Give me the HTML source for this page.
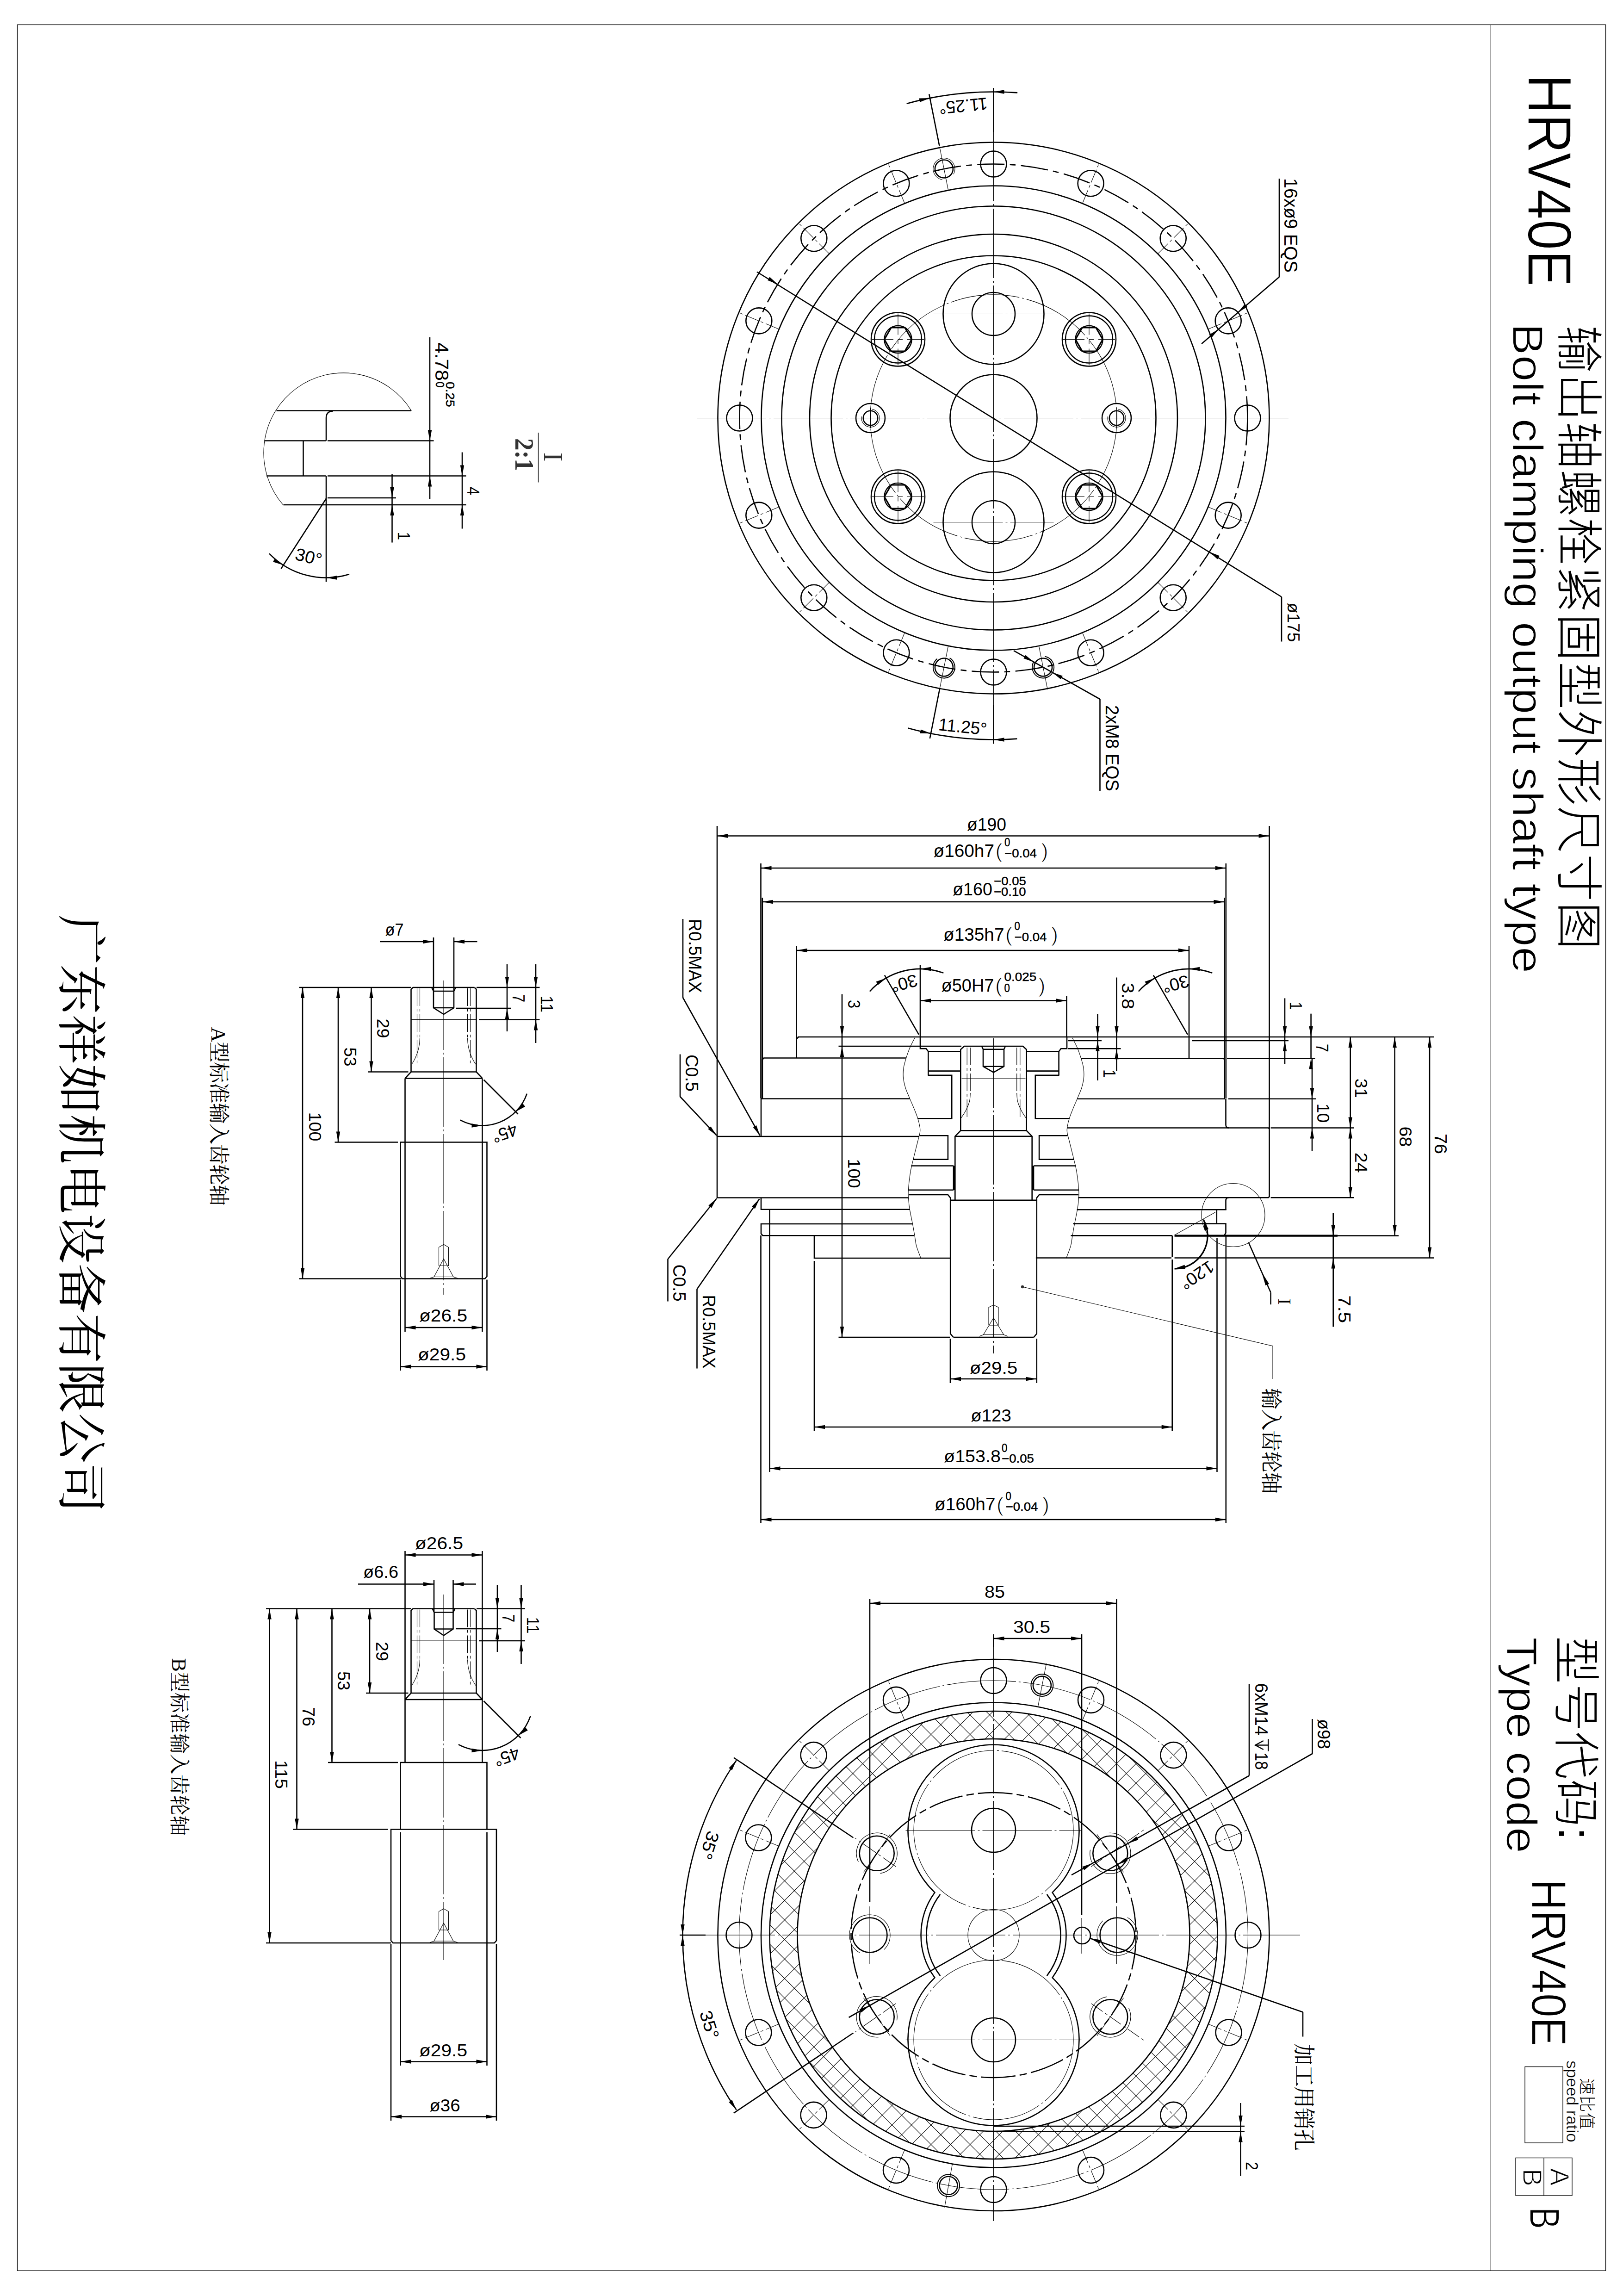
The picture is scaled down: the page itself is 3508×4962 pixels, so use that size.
<!DOCTYPE html>
<html lang="zh"><head><meta charset="utf-8"><title>HRV40E</title><style>
html,body{margin:0;padding:0;background:#fff}
svg{display:block}
.g line,.g path,.g circle,.g polyline{stroke:#000;fill:none;stroke-linecap:butt}
.fr rect,.fr line{stroke:#111;stroke-width:1.4;fill:none}
.ah{fill:#000;stroke:none}
text{fill:#000;stroke:none}
.d{font-family:"Liberation Sans",sans-serif}
.tt{font-family:"Liberation Sans","Noto Sans CJK SC",sans-serif;stroke:#fff;stroke-width:1.6px;paint-order:fill stroke}
.dt{font-family:"Liberation Sans",sans-serif;stroke:#000;stroke-width:.5px}
.pp{font-family:"Liberation Sans",sans-serif;stroke:#fff;stroke-width:1.1px;paint-order:fill stroke}
.ts{font-family:"Liberation Sans",sans-serif;stroke:#fff;stroke-width:.5px;paint-order:fill stroke}
.tc{font-family:"Liberation Sans","Noto Sans CJK SC",sans-serif;font-weight:300}
.sc{font-family:"Liberation Serif","Noto Serif CJK SC",serif}
.sg{font-family:"Liberation Serif","Noto Serif CJK SC",serif;fill:#333}
</style></head><body>
<svg width="3508" height="4962" viewBox="0 0 3508 4962"><rect width="3508" height="4962" fill="#fff"/>
<g class="g">
<circle cx="2147.5" cy="903.5" r="596" stroke-width="2.6"/>
<circle cx="2147.5" cy="903.5" r="502" stroke-width="2.6"/>
<circle cx="2147.5" cy="903.5" r="458" stroke-width="2.6"/>
<circle cx="2147.5" cy="903.5" r="397.5" stroke-width="2.6"/>
<circle cx="2147.5" cy="903.5" r="351" stroke-width="2.6"/>
<circle cx="2147.5" cy="903.5" r="549" stroke-width="2.6" stroke-dasharray="59 11.5 12.5 11.5"/>
<circle cx="2696.5" cy="903.5" r="28" stroke-width="2.6"/>
<circle cx="2654.7" cy="1113.6" r="28" stroke-width="2.6"/>
<line x1="2612.2" y1="1096" x2="2700" y2="1132.3" stroke-width="1.1" stroke-dasharray="30 6 6 6"/>
<circle cx="2535.7" cy="1291.7" r="28" stroke-width="2.6"/>
<line x1="2503.2" y1="1259.2" x2="2570.3" y2="1326.3" stroke-width="1.1" stroke-dasharray="30 6 6 6"/>
<circle cx="2357.6" cy="1410.7" r="28" stroke-width="2.6"/>
<line x1="2340" y1="1368.2" x2="2376.3" y2="1456" stroke-width="1.1" stroke-dasharray="30 6 6 6"/>
<circle cx="2147.5" cy="1452.5" r="28" stroke-width="2.6"/>
<circle cx="1937.4" cy="1410.7" r="28" stroke-width="2.6"/>
<line x1="1955" y1="1368.2" x2="1918.7" y2="1456" stroke-width="1.1" stroke-dasharray="30 6 6 6"/>
<circle cx="1759.3" cy="1291.7" r="28" stroke-width="2.6"/>
<line x1="1791.8" y1="1259.2" x2="1724.7" y2="1326.3" stroke-width="1.1" stroke-dasharray="30 6 6 6"/>
<circle cx="1640.3" cy="1113.6" r="28" stroke-width="2.6"/>
<line x1="1682.8" y1="1096" x2="1595" y2="1132.3" stroke-width="1.1" stroke-dasharray="30 6 6 6"/>
<circle cx="1598.5" cy="903.5" r="28" stroke-width="2.6"/>
<circle cx="1640.3" cy="693.4" r="28" stroke-width="2.6"/>
<line x1="1682.8" y1="711" x2="1595" y2="674.7" stroke-width="1.1" stroke-dasharray="30 6 6 6"/>
<circle cx="1759.3" cy="515.3" r="28" stroke-width="2.6"/>
<line x1="1791.8" y1="547.8" x2="1724.7" y2="480.7" stroke-width="1.1" stroke-dasharray="30 6 6 6"/>
<circle cx="1937.4" cy="396.3" r="28" stroke-width="2.6"/>
<line x1="1955" y1="438.8" x2="1918.7" y2="351" stroke-width="1.1" stroke-dasharray="30 6 6 6"/>
<circle cx="2147.5" cy="354.5" r="28" stroke-width="2.6"/>
<circle cx="2357.6" cy="396.3" r="28" stroke-width="2.6"/>
<line x1="2340" y1="438.8" x2="2376.3" y2="351" stroke-width="1.1" stroke-dasharray="30 6 6 6"/>
<circle cx="2535.7" cy="515.3" r="28" stroke-width="2.6"/>
<line x1="2503.2" y1="547.8" x2="2570.3" y2="480.7" stroke-width="1.1" stroke-dasharray="30 6 6 6"/>
<circle cx="2654.7" cy="693.4" r="28" stroke-width="2.6"/>
<line x1="2612.2" y1="711" x2="2700" y2="674.7" stroke-width="1.1" stroke-dasharray="30 6 6 6"/>
<circle cx="2040.4" cy="365" r="19.5" stroke-width="2.6"/>
<path d="M2036.8 388.3 A23.5 23.5 0 1 1 2061 376.4" stroke-width="1.1"/>
<line x1="2049.4" y1="410.2" x2="2030.8" y2="317" stroke-width="1.1"/>
<circle cx="2040.4" cy="1442" r="19.5" stroke-width="2.6"/>
<path d="M2052.6 1421.9 A23.5 23.5 0 1 1 2025.7 1423.6" stroke-width="2.0"/>
<line x1="2049.4" y1="1396.8" x2="2030.8" y2="1490" stroke-width="1.1"/>
<circle cx="2254.6" cy="1442" r="19.5" stroke-width="2.6"/>
<path d="M2258.2 1418.7 A23.5 23.5 0 1 1 2234 1430.6" stroke-width="2.0"/>
<line x1="2245.6" y1="1396.8" x2="2264.2" y2="1490" stroke-width="1.1"/>
<line x1="1506" y1="903.5" x2="2785" y2="903.5" stroke-width="1.1" stroke-dasharray="150 6 4 6"/>
<line x1="2147.5" y1="285" x2="2147.5" y2="1523" stroke-width="1.1" stroke-dasharray="150 6 4 6"/>
<line x1="2147.5" y1="190" x2="2147.5" y2="285" stroke-width="2.6"/>
<line x1="2147.5" y1="1523.5" x2="2147.5" y2="1607.5" stroke-width="2.6"/>
<circle cx="2147.5" cy="903.5" r="266.6" stroke-width="1.1" stroke-dasharray="150 6 4 6"/>
<circle cx="2147.5" cy="903.5" r="94" stroke-width="2.6"/>
<circle cx="2147.5" cy="678.5" r="109" stroke-width="2.6"/>
<circle cx="2147.5" cy="678.5" r="46.5" stroke-width="2.6"/>
<line x1="2017.5" y1="678.5" x2="2277.5" y2="678.5" stroke-width="1.1" stroke-dasharray="150 6 4 6"/>
<circle cx="1941" cy="733.5" r="58" stroke-width="2.6"/>
<circle cx="1941" cy="733.5" r="51" stroke-width="2.4"/>
<circle cx="1941" cy="733.5" r="29.6" stroke-width="2.4"/>
<path d="M1970.5 733.5 L1955.8 759 L1926.2 759 L1911.5 733.5 L1926.2 708 L1955.8 708 Z" stroke-width="3.2"/>
<line x1="1885" y1="733.5" x2="1997" y2="733.5" stroke-width="1.1" stroke-dasharray="46 10 10 10"/>
<line x1="1941" y1="677.5" x2="1941" y2="789.5" stroke-width="1.1" stroke-dasharray="46 10 10 10"/>
<circle cx="2354" cy="733.5" r="58" stroke-width="2.6"/>
<circle cx="2354" cy="733.5" r="51" stroke-width="2.4"/>
<circle cx="2354" cy="733.5" r="29.6" stroke-width="2.4"/>
<path d="M2383.5 733.5 L2368.8 759 L2339.2 759 L2324.5 733.5 L2339.2 708 L2368.8 708 Z" stroke-width="3.2"/>
<line x1="2298" y1="733.5" x2="2410" y2="733.5" stroke-width="1.1" stroke-dasharray="46 10 10 10"/>
<line x1="2354" y1="677.5" x2="2354" y2="789.5" stroke-width="1.1" stroke-dasharray="46 10 10 10"/>
<circle cx="1881.5" cy="903.5" r="31.5" stroke-width="2.6"/>
<circle cx="1881.5" cy="903.5" r="15.7" stroke-width="2.6"/>
<path d="M1884.9 884.3 A19.5 19.5 0 1 1 1862.3 900.1" stroke-width="1.1"/>
<line x1="1881.5" y1="881.5" x2="1881.5" y2="925.5" stroke-width="1.1"/>
<circle cx="2147.5" cy="1128.5" r="109" stroke-width="2.6"/>
<circle cx="2147.5" cy="1128.5" r="46.5" stroke-width="2.6"/>
<line x1="2017.5" y1="1128.5" x2="2277.5" y2="1128.5" stroke-width="1.1" stroke-dasharray="150 6 4 6"/>
<circle cx="1941" cy="1073.5" r="58" stroke-width="2.6"/>
<circle cx="1941" cy="1073.5" r="51" stroke-width="2.4"/>
<circle cx="1941" cy="1073.5" r="29.6" stroke-width="2.4"/>
<path d="M1970.5 1073.5 L1955.8 1099 L1926.2 1099 L1911.5 1073.5 L1926.2 1048 L1955.8 1048 Z" stroke-width="3.2"/>
<line x1="1885" y1="1073.5" x2="1997" y2="1073.5" stroke-width="1.1" stroke-dasharray="46 10 10 10"/>
<line x1="1941" y1="1017.5" x2="1941" y2="1129.5" stroke-width="1.1" stroke-dasharray="46 10 10 10"/>
<circle cx="2354" cy="1073.5" r="58" stroke-width="2.6"/>
<circle cx="2354" cy="1073.5" r="51" stroke-width="2.4"/>
<circle cx="2354" cy="1073.5" r="29.6" stroke-width="2.4"/>
<path d="M2383.5 1073.5 L2368.8 1099 L2339.2 1099 L2324.5 1073.5 L2339.2 1048 L2368.8 1048 Z" stroke-width="3.2"/>
<line x1="2298" y1="1073.5" x2="2410" y2="1073.5" stroke-width="1.1" stroke-dasharray="46 10 10 10"/>
<line x1="2354" y1="1017.5" x2="2354" y2="1129.5" stroke-width="1.1" stroke-dasharray="46 10 10 10"/>
<circle cx="2413.5" cy="903.5" r="31.5" stroke-width="2.6"/>
<circle cx="2413.5" cy="903.5" r="15.7" stroke-width="2.6"/>
<path d="M2416.9 884.3 A19.5 19.5 0 1 1 2394.3 900.1" stroke-width="1.1"/>
<line x1="2413.5" y1="881.5" x2="2413.5" y2="925.5" stroke-width="1.1"/>
<line x1="1636" y1="587.5" x2="2770" y2="1290" stroke-width="2.6"/>
<polygon class="ah" points="1680.9,614.2 1659.1,605.7 1663.6,598.5"/>
<polygon class="ah" points="2614.1,1192.8 2635.9,1201.3 2631.4,1208.5"/>
<line x1="2770" y1="1290" x2="2770" y2="1386.5" stroke-width="2.6"/>
<text class="d" transform="translate(2782.5 1345) rotate(90)" font-size="37.7" text-anchor="middle" textLength="85" lengthAdjust="spacingAndGlyphs">ø175</text>
<line x1="2765" y1="386" x2="2765" y2="598.5" stroke-width="2.6"/>
<line x1="2765" y1="598.5" x2="2633.5" y2="711.7" stroke-width="2.6"/>
<polygon class="ah" points="2675.9,675.1 2690.6,657 2696.1,663.3"/>
<line x1="2597.1" y1="743" x2="2633.5" y2="711.7" stroke-width="2.6"/>
<polygon class="ah" points="2633.5,711.7 2618.8,729.9 2613.3,723.5"/>
<text class="d" transform="translate(2776 487) rotate(90)" font-size="40.5" text-anchor="middle" textLength="204" lengthAdjust="spacingAndGlyphs">16xø9 EQS</text>
<line x1="2377.5" y1="1511" x2="2377.5" y2="1709" stroke-width="2.6"/>
<line x1="2377.5" y1="1511" x2="2234.6" y2="1430.7" stroke-width="2.6"/>
<polygon class="ah" points="2274.7,1453.2 2296.8,1460.8 2292.7,1468.1"/>
<line x1="2191" y1="1406.2" x2="2234.6" y2="1430.7" stroke-width="2.6"/>
<polygon class="ah" points="2234.6,1430.7 2212.4,1423.1 2216.6,1415.8"/>
<text class="d" transform="translate(2390 1617) rotate(90)" font-size="40.5" text-anchor="middle" textLength="186" lengthAdjust="spacingAndGlyphs">2xM8 EQS</text>
<line x1="2030.4" y1="315" x2="2008.2" y2="203.2" stroke-width="2.6"/>
<path d="M1959.7 224 A705 705 0 0 1 2199.1 200.4" stroke-width="2.6"/>
<polygon class="ah" points="2010,212 1988.2,220.7 1986.6,212.4"/>
<polygon class="ah" points="2147.5,198.5 2170.5,194.3 2170.5,202.7"/>
<text class="d" transform="translate(2081 215.8) rotate(174.4)" font-size="37.7" text-anchor="middle" textLength="105" lengthAdjust="spacingAndGlyphs">11.25°</text>
<line x1="2031.2" y1="1488" x2="2009.8" y2="1595.9" stroke-width="2.6"/>
<path d="M2198.4 1596.6 A695 695 0 0 1 1962.4 1573.4" stroke-width="2.6"/>
<polygon class="ah" points="2011.9,1585.1 1988.5,1584.8 1990.2,1576.5"/>
<polygon class="ah" points="2147.5,1598.5 2170.5,1594.3 2170.5,1602.7"/>
<text class="d" transform="translate(2079.6 1583.4) rotate(5.8)" font-size="37.7" text-anchor="middle" textLength="105" lengthAdjust="spacingAndGlyphs">11.25°</text>
<defs><clipPath id="ring"><path clip-rule="evenodd" d="M2147.5 4182 m-484 0 a484 484 0 1 0 968 0 a484 484 0 1 0 -968 0 Z M2147.5 4182 m-424 0 a424 424 0 1 0 848 0 a424 424 0 1 0 -848 0 Z"/></clipPath></defs>
<g clip-path="url(#ring)">
<line x1="1647.5" y1="4734" x2="2647.5" y2="5734" stroke-width="1.1"/>
<line x1="1647.5" y1="3649" x2="2647.5" y2="2649" stroke-width="1.1"/>
<line x1="1647.5" y1="4691.8" x2="2647.5" y2="5691.8" stroke-width="1.1"/>
<line x1="1647.5" y1="3691.2" x2="2647.5" y2="2691.2" stroke-width="1.1"/>
<line x1="1647.5" y1="4649.6" x2="2647.5" y2="5649.6" stroke-width="1.1"/>
<line x1="1647.5" y1="3733.4" x2="2647.5" y2="2733.4" stroke-width="1.1"/>
<line x1="1647.5" y1="4607.4" x2="2647.5" y2="5607.4" stroke-width="1.1"/>
<line x1="1647.5" y1="3775.6" x2="2647.5" y2="2775.6" stroke-width="1.1"/>
<line x1="1647.5" y1="4565.2" x2="2647.5" y2="5565.2" stroke-width="1.1"/>
<line x1="1647.5" y1="3817.8" x2="2647.5" y2="2817.8" stroke-width="1.1"/>
<line x1="1647.5" y1="4523" x2="2647.5" y2="5523" stroke-width="1.1"/>
<line x1="1647.5" y1="3860" x2="2647.5" y2="2860" stroke-width="1.1"/>
<line x1="1647.5" y1="4480.8" x2="2647.5" y2="5480.8" stroke-width="1.1"/>
<line x1="1647.5" y1="3902.2" x2="2647.5" y2="2902.2" stroke-width="1.1"/>
<line x1="1647.5" y1="4438.6" x2="2647.5" y2="5438.6" stroke-width="1.1"/>
<line x1="1647.5" y1="3944.4" x2="2647.5" y2="2944.4" stroke-width="1.1"/>
<line x1="1647.5" y1="4396.4" x2="2647.5" y2="5396.4" stroke-width="1.1"/>
<line x1="1647.5" y1="3986.6" x2="2647.5" y2="2986.6" stroke-width="1.1"/>
<line x1="1647.5" y1="4354.2" x2="2647.5" y2="5354.2" stroke-width="1.1"/>
<line x1="1647.5" y1="4028.8" x2="2647.5" y2="3028.8" stroke-width="1.1"/>
<line x1="1647.5" y1="4312" x2="2647.5" y2="5312" stroke-width="1.1"/>
<line x1="1647.5" y1="4071" x2="2647.5" y2="3071" stroke-width="1.1"/>
<line x1="1647.5" y1="4269.8" x2="2647.5" y2="5269.8" stroke-width="1.1"/>
<line x1="1647.5" y1="4113.2" x2="2647.5" y2="3113.2" stroke-width="1.1"/>
<line x1="1647.5" y1="4227.6" x2="2647.5" y2="5227.6" stroke-width="1.1"/>
<line x1="1647.5" y1="4155.4" x2="2647.5" y2="3155.4" stroke-width="1.1"/>
<line x1="1647.5" y1="4185.4" x2="2647.5" y2="5185.4" stroke-width="1.1"/>
<line x1="1647.5" y1="4197.6" x2="2647.5" y2="3197.6" stroke-width="1.1"/>
<line x1="1647.5" y1="4143.2" x2="2647.5" y2="5143.2" stroke-width="1.1"/>
<line x1="1647.5" y1="4239.8" x2="2647.5" y2="3239.8" stroke-width="1.1"/>
<line x1="1647.5" y1="4101" x2="2647.5" y2="5101" stroke-width="1.1"/>
<line x1="1647.5" y1="4282" x2="2647.5" y2="3282" stroke-width="1.1"/>
<line x1="1647.5" y1="4058.8" x2="2647.5" y2="5058.8" stroke-width="1.1"/>
<line x1="1647.5" y1="4324.2" x2="2647.5" y2="3324.2" stroke-width="1.1"/>
<line x1="1647.5" y1="4016.6" x2="2647.5" y2="5016.6" stroke-width="1.1"/>
<line x1="1647.5" y1="4366.4" x2="2647.5" y2="3366.4" stroke-width="1.1"/>
<line x1="1647.5" y1="3974.4" x2="2647.5" y2="4974.4" stroke-width="1.1"/>
<line x1="1647.5" y1="4408.6" x2="2647.5" y2="3408.6" stroke-width="1.1"/>
<line x1="1647.5" y1="3932.2" x2="2647.5" y2="4932.2" stroke-width="1.1"/>
<line x1="1647.5" y1="4450.8" x2="2647.5" y2="3450.8" stroke-width="1.1"/>
<line x1="1647.5" y1="3890" x2="2647.5" y2="4890" stroke-width="1.1"/>
<line x1="1647.5" y1="4493" x2="2647.5" y2="3493" stroke-width="1.1"/>
<line x1="1647.5" y1="3847.8" x2="2647.5" y2="4847.8" stroke-width="1.1"/>
<line x1="1647.5" y1="4535.2" x2="2647.5" y2="3535.2" stroke-width="1.1"/>
<line x1="1647.5" y1="3805.6" x2="2647.5" y2="4805.6" stroke-width="1.1"/>
<line x1="1647.5" y1="4577.4" x2="2647.5" y2="3577.4" stroke-width="1.1"/>
<line x1="1647.5" y1="3763.4" x2="2647.5" y2="4763.4" stroke-width="1.1"/>
<line x1="1647.5" y1="4619.6" x2="2647.5" y2="3619.6" stroke-width="1.1"/>
<line x1="1647.5" y1="3721.2" x2="2647.5" y2="4721.2" stroke-width="1.1"/>
<line x1="1647.5" y1="4661.8" x2="2647.5" y2="3661.8" stroke-width="1.1"/>
<line x1="1647.5" y1="3679" x2="2647.5" y2="4679" stroke-width="1.1"/>
<line x1="1647.5" y1="4704" x2="2647.5" y2="3704" stroke-width="1.1"/>
<line x1="1647.5" y1="3636.8" x2="2647.5" y2="4636.8" stroke-width="1.1"/>
<line x1="1647.5" y1="4746.2" x2="2647.5" y2="3746.2" stroke-width="1.1"/>
<line x1="1647.5" y1="3594.6" x2="2647.5" y2="4594.6" stroke-width="1.1"/>
<line x1="1647.5" y1="4788.4" x2="2647.5" y2="3788.4" stroke-width="1.1"/>
<line x1="1647.5" y1="3552.4" x2="2647.5" y2="4552.4" stroke-width="1.1"/>
<line x1="1647.5" y1="4830.6" x2="2647.5" y2="3830.6" stroke-width="1.1"/>
<line x1="1647.5" y1="3510.2" x2="2647.5" y2="4510.2" stroke-width="1.1"/>
<line x1="1647.5" y1="4872.8" x2="2647.5" y2="3872.8" stroke-width="1.1"/>
<line x1="1647.5" y1="3468" x2="2647.5" y2="4468" stroke-width="1.1"/>
<line x1="1647.5" y1="4915" x2="2647.5" y2="3915" stroke-width="1.1"/>
<line x1="1647.5" y1="3425.8" x2="2647.5" y2="4425.8" stroke-width="1.1"/>
<line x1="1647.5" y1="4957.2" x2="2647.5" y2="3957.2" stroke-width="1.1"/>
<line x1="1647.5" y1="3383.6" x2="2647.5" y2="4383.6" stroke-width="1.1"/>
<line x1="1647.5" y1="4999.4" x2="2647.5" y2="3999.4" stroke-width="1.1"/>
<line x1="1647.5" y1="3341.4" x2="2647.5" y2="4341.4" stroke-width="1.1"/>
<line x1="1647.5" y1="5041.6" x2="2647.5" y2="4041.6" stroke-width="1.1"/>
<line x1="1647.5" y1="3299.2" x2="2647.5" y2="4299.2" stroke-width="1.1"/>
<line x1="1647.5" y1="5083.8" x2="2647.5" y2="4083.8" stroke-width="1.1"/>
<line x1="1647.5" y1="3257" x2="2647.5" y2="4257" stroke-width="1.1"/>
<line x1="1647.5" y1="5126" x2="2647.5" y2="4126" stroke-width="1.1"/>
<line x1="1647.5" y1="3214.8" x2="2647.5" y2="4214.8" stroke-width="1.1"/>
<line x1="1647.5" y1="5168.2" x2="2647.5" y2="4168.2" stroke-width="1.1"/>
<line x1="1647.5" y1="3172.6" x2="2647.5" y2="4172.6" stroke-width="1.1"/>
<line x1="1647.5" y1="5210.4" x2="2647.5" y2="4210.4" stroke-width="1.1"/>
<line x1="1647.5" y1="3130.4" x2="2647.5" y2="4130.4" stroke-width="1.1"/>
<line x1="1647.5" y1="5252.6" x2="2647.5" y2="4252.6" stroke-width="1.1"/>
<line x1="1647.5" y1="3088.2" x2="2647.5" y2="4088.2" stroke-width="1.1"/>
<line x1="1647.5" y1="5294.8" x2="2647.5" y2="4294.8" stroke-width="1.1"/>
<line x1="1647.5" y1="3046" x2="2647.5" y2="4046" stroke-width="1.1"/>
<line x1="1647.5" y1="5337" x2="2647.5" y2="4337" stroke-width="1.1"/>
<line x1="1647.5" y1="3003.8" x2="2647.5" y2="4003.8" stroke-width="1.1"/>
<line x1="1647.5" y1="5379.2" x2="2647.5" y2="4379.2" stroke-width="1.1"/>
<line x1="1647.5" y1="2961.6" x2="2647.5" y2="3961.6" stroke-width="1.1"/>
<line x1="1647.5" y1="5421.4" x2="2647.5" y2="4421.4" stroke-width="1.1"/>
<line x1="1647.5" y1="2919.4" x2="2647.5" y2="3919.4" stroke-width="1.1"/>
<line x1="1647.5" y1="5463.6" x2="2647.5" y2="4463.6" stroke-width="1.1"/>
<line x1="1647.5" y1="2877.2" x2="2647.5" y2="3877.2" stroke-width="1.1"/>
<line x1="1647.5" y1="5505.8" x2="2647.5" y2="4505.8" stroke-width="1.1"/>
<line x1="1647.5" y1="2835" x2="2647.5" y2="3835" stroke-width="1.1"/>
<line x1="1647.5" y1="5548" x2="2647.5" y2="4548" stroke-width="1.1"/>
<line x1="1647.5" y1="2792.8" x2="2647.5" y2="3792.8" stroke-width="1.1"/>
<line x1="1647.5" y1="5590.2" x2="2647.5" y2="4590.2" stroke-width="1.1"/>
<line x1="1647.5" y1="2750.6" x2="2647.5" y2="3750.6" stroke-width="1.1"/>
<line x1="1647.5" y1="5632.4" x2="2647.5" y2="4632.4" stroke-width="1.1"/>
<line x1="1647.5" y1="2708.4" x2="2647.5" y2="3708.4" stroke-width="1.1"/>
<line x1="1647.5" y1="5674.6" x2="2647.5" y2="4674.6" stroke-width="1.1"/>
<line x1="1647.5" y1="2666.2" x2="2647.5" y2="3666.2" stroke-width="1.1"/>
<line x1="1647.5" y1="5716.8" x2="2647.5" y2="4716.8" stroke-width="1.1"/>
<line x1="1647.5" y1="2624" x2="2647.5" y2="3624" stroke-width="1.1"/>
<line x1="1647.5" y1="5759" x2="2647.5" y2="4759" stroke-width="1.1"/>
</g>
<circle cx="2147.5" cy="4182" r="596" stroke-width="2.6"/>
<circle cx="2147.5" cy="4182" r="502.5" stroke-width="2.6"/>
<circle cx="2147.5" cy="4182" r="484" stroke-width="2.6"/>
<circle cx="2147.5" cy="4182" r="424" stroke-width="2.6"/>
<circle cx="2147.5" cy="4182" r="550" stroke-width="1.1" stroke-dasharray="150 6 4 6"/>
<circle cx="2697.5" cy="4182" r="28" stroke-width="2.6"/>
<circle cx="2655.6" cy="4392.5" r="28" stroke-width="2.6"/>
<line x1="2612.2" y1="4374.5" x2="2700" y2="4410.8" stroke-width="1.1" stroke-dasharray="30 6 6 6"/>
<circle cx="2536.4" cy="4570.9" r="28" stroke-width="2.6"/>
<line x1="2503.2" y1="4537.7" x2="2570.3" y2="4604.8" stroke-width="1.1" stroke-dasharray="30 6 6 6"/>
<circle cx="2358" cy="4690.1" r="28" stroke-width="2.6"/>
<line x1="2340" y1="4646.7" x2="2376.3" y2="4734.5" stroke-width="1.1" stroke-dasharray="30 6 6 6"/>
<circle cx="2147.5" cy="4732" r="28" stroke-width="2.6"/>
<circle cx="1937" cy="4690.1" r="28" stroke-width="2.6"/>
<line x1="1955" y1="4646.7" x2="1918.7" y2="4734.5" stroke-width="1.1" stroke-dasharray="30 6 6 6"/>
<circle cx="1758.6" cy="4570.9" r="28" stroke-width="2.6"/>
<line x1="1791.8" y1="4537.7" x2="1724.7" y2="4604.8" stroke-width="1.1" stroke-dasharray="30 6 6 6"/>
<circle cx="1639.4" cy="4392.5" r="28" stroke-width="2.6"/>
<line x1="1682.8" y1="4374.5" x2="1595" y2="4410.8" stroke-width="1.1" stroke-dasharray="30 6 6 6"/>
<circle cx="1597.5" cy="4182" r="28" stroke-width="2.6"/>
<circle cx="1639.4" cy="3971.5" r="28" stroke-width="2.6"/>
<line x1="1682.8" y1="3989.5" x2="1595" y2="3953.2" stroke-width="1.1" stroke-dasharray="30 6 6 6"/>
<circle cx="1758.6" cy="3793.1" r="28" stroke-width="2.6"/>
<line x1="1791.8" y1="3826.3" x2="1724.7" y2="3759.2" stroke-width="1.1" stroke-dasharray="30 6 6 6"/>
<circle cx="1937" cy="3673.9" r="28" stroke-width="2.6"/>
<line x1="1955" y1="3717.3" x2="1918.7" y2="3629.5" stroke-width="1.1" stroke-dasharray="30 6 6 6"/>
<circle cx="2147.5" cy="3632" r="28" stroke-width="2.6"/>
<circle cx="2358" cy="3673.9" r="28" stroke-width="2.6"/>
<line x1="2340" y1="3717.3" x2="2376.3" y2="3629.5" stroke-width="1.1" stroke-dasharray="30 6 6 6"/>
<circle cx="2536.4" cy="3793.1" r="28" stroke-width="2.6"/>
<line x1="2503.2" y1="3826.3" x2="2570.3" y2="3759.2" stroke-width="1.1" stroke-dasharray="30 6 6 6"/>
<circle cx="2655.6" cy="3971.5" r="28" stroke-width="2.6"/>
<line x1="2612.2" y1="3989.5" x2="2700" y2="3953.2" stroke-width="1.1" stroke-dasharray="30 6 6 6"/>
<circle cx="2252.4" cy="3642.1" r="19.5" stroke-width="2.6"/>
<circle cx="2252.4" cy="3642.1" r="24" stroke-width="2.0"/>
<line x1="2243.5" y1="3688.2" x2="2261.6" y2="3595" stroke-width="1.1"/>
<circle cx="2050.1" cy="4723.3" r="19.5" stroke-width="2.6"/>
<circle cx="2050.1" cy="4723.3" r="24" stroke-width="2.0"/>
<line x1="2058.4" y1="4677.1" x2="2041.6" y2="4770.5" stroke-width="1.1"/>
<circle cx="2147.5" cy="4182" r="308" stroke-width="2.6" stroke-dasharray="75 9 16 9"/>
<circle cx="1880" cy="4182" r="37.5" stroke-width="2.6"/>
<path d="M1858 4220.1 A44 44 0 1 1 1911.1 4213.1" stroke-width="1.1"/>
<circle cx="2415" cy="4182" r="37.5" stroke-width="2.6"/>
<path d="M2437 4143.9 A44 44 0 1 1 2383.9 4150.9" stroke-width="1.1"/>
<circle cx="1895.2" cy="4005.3" r="37.5" stroke-width="2.6"/>
<path d="M1855.3 4023.9 A44 44 0 1 1 1902.8 4048.6" stroke-width="1.1"/>
<circle cx="1895.2" cy="4358.7" r="37.5" stroke-width="2.6"/>
<path d="M1899 4402.5 A44 44 0 1 1 1938.5 4366.3" stroke-width="1.1"/>
<circle cx="2399.8" cy="4005.3" r="37.5" stroke-width="2.6"/>
<path d="M2396 3961.5 A44 44 0 1 1 2356.5 3997.7" stroke-width="1.1"/>
<circle cx="2399.8" cy="4358.7" r="37.5" stroke-width="2.6"/>
<path d="M2439.7 4340.1 A44 44 0 1 1 2392.2 4315.4" stroke-width="1.1"/>
<path d="M2020.4 4089.9 A185 185 0 1 1 2274.6 4089.9 A157 157 0 0 1 2274.6 4274.1 A185 185 0 1 1 2020.4 4274.1 A157 157 0 0 1 2020.4 4089.9 Z" stroke-width="2.6"/>
<path d="M2032.3 4093.9 A145 145 0 0 0 2032.3 4270.1" stroke-width="2.6"/>
<path d="M2262.7 4093.9 A145 145 0 0 1 2262.7 4270.1" stroke-width="2.6"/>
<circle cx="2147.5" cy="3955.5" r="172.5" stroke-width="1.1" stroke-dasharray="150 6 4 6"/>
<circle cx="2147.5" cy="3955.5" r="47.5" stroke-width="2.6"/>
<line x1="1957.5" y1="3955.5" x2="2337.5" y2="3955.5" stroke-width="1.1" stroke-dasharray="150 6 4 6"/>
<circle cx="2147.5" cy="4408.5" r="172.5" stroke-width="1.1" stroke-dasharray="150 6 4 6"/>
<circle cx="2147.5" cy="4408.5" r="47.5" stroke-width="2.6"/>
<line x1="1957.5" y1="4408.5" x2="2337.5" y2="4408.5" stroke-width="1.1" stroke-dasharray="150 6 4 6"/>
<circle cx="2147.5" cy="4182" r="55.5" stroke-width="1.1"/>
<circle cx="2339" cy="4183" r="18" stroke-width="2.6"/>
<line x1="1525" y1="4182" x2="2810" y2="4182" stroke-width="1.1" stroke-dasharray="150 6 4 6"/>
<line x1="1469" y1="4182" x2="1525" y2="4182" stroke-width="2.6"/>
<line x1="2147.5" y1="3560" x2="2147.5" y2="4800" stroke-width="1.1" stroke-dasharray="150 6 4 6"/>
<line x1="2147.5" y1="3532" x2="2147.5" y2="3560" stroke-width="2.6"/>
<line x1="1880" y1="4120" x2="1880" y2="4245" stroke-width="1.1"/>
<line x1="2413.5" y1="4120" x2="2413.5" y2="4245" stroke-width="1.1"/>
<line x1="2338" y1="4145" x2="2338" y2="4222" stroke-width="1.1"/>
<line x1="1880" y1="3456" x2="1880" y2="4110" stroke-width="2.6"/>
<line x1="2413.5" y1="3456" x2="2413.5" y2="4112" stroke-width="2.6"/>
<line x1="1880" y1="3465" x2="2413.5" y2="3465" stroke-width="2.6"/>
<polygon class="ah" points="1880,3465 1903,3460.8 1903,3469.2"/>
<polygon class="ah" points="2413.5,3465 2390.5,3469.2 2390.5,3460.8"/>
<text class="d" transform="translate(2150 3452.5)" font-size="37.7" text-anchor="middle" textLength="44" lengthAdjust="spacingAndGlyphs">85</text>
<line x1="2338" y1="3532" x2="2338" y2="4139" stroke-width="2.6"/>
<line x1="2147.5" y1="3541" x2="2338" y2="3541" stroke-width="2.6"/>
<polygon class="ah" points="2147.5,3541 2170.5,3536.8 2170.5,3545.2"/>
<polygon class="ah" points="2338,3541 2315,3545.2 2315,3536.8"/>
<text class="d" transform="translate(2230 3529)" font-size="37.7" text-anchor="middle" textLength="80" lengthAdjust="spacingAndGlyphs">30.5</text>
<line x1="1844.4" y1="4393.5" x2="1585.9" y2="4566.6" stroke-width="2.6"/>
<line x1="1936.2" y1="4330" x2="1847.7" y2="4391.9" stroke-width="1.1" stroke-dasharray="34 6 6 6"/>
<polygon class="ah" points="1591.7,4559.7 1575.3,4543.1 1582.2,4538.3"/>
<line x1="1923.9" y1="4399.6" x2="1866.5" y2="4317.7" stroke-width="1.1"/>
<line x1="1844.4" y1="3971.5" x2="1585.9" y2="3798.5" stroke-width="2.6"/>
<line x1="1936.2" y1="4034" x2="1847.7" y2="3972.1" stroke-width="1.1" stroke-dasharray="34 6 6 6"/>
<polygon class="ah" points="1591.7,3804.3 1582.2,3825.7 1575.3,3820.9"/>
<line x1="1866.5" y1="4046.3" x2="1923.9" y2="3964.4" stroke-width="1.1"/>
<path d="M1591.7 4559.7 A672 672 0 0 1 1591.7 3804.3" stroke-width="2.6"/>
<polygon class="ah" points="1475.5,4182 1471.3,4159 1479.7,4159"/>
<polygon class="ah" points="1475.5,4182 1479.7,4205 1471.3,4205"/>
<text class="d" transform="translate(1520.9 3984.4) rotate(107.5)" font-size="37.7" text-anchor="middle" textLength="62" lengthAdjust="spacingAndGlyphs">35°</text>
<text class="d" transform="translate(1520.9 4379.6) rotate(72.5)" font-size="37.7" text-anchor="middle" textLength="62" lengthAdjust="spacingAndGlyphs">35°</text>
<line x1="2358.8" y1="4034" x2="2475.2" y2="3952.6" stroke-width="1.1" stroke-dasharray="30 6 6 6"/>
<line x1="2371.1" y1="3964.4" x2="2428.5" y2="4046.3" stroke-width="1.1"/>
<line x1="2358.8" y1="4330" x2="2475.2" y2="4411.4" stroke-width="1.1" stroke-dasharray="30 6 6 6"/>
<line x1="2428.5" y1="4317.7" x2="2371.1" y2="4399.6" stroke-width="1.1"/>
<line x1="2836.5" y1="3715" x2="2836.5" y2="3790" stroke-width="2.6"/>
<line x1="2836.5" y1="3790" x2="1834.6" y2="4360" stroke-width="2.6"/>
<polygon class="ah" points="2415.2,4029.7 2433.1,4014.7 2437.3,4022"/>
<polygon class="ah" points="1879.8,4334.3 1861.9,4349.3 1857.7,4342"/>
<text class="d" transform="translate(2848.1 3747.5) rotate(90)" font-size="38.8" text-anchor="middle" textLength="65" lengthAdjust="spacingAndGlyphs">ø98</text>
<line x1="2700" y1="3639" x2="2700" y2="3837.5" stroke-width="2.6"/>
<line x1="2700" y1="3837.5" x2="2361.4" y2="4026.8" stroke-width="2.6"/>
<polygon class="ah" points="2438.2,3983.8 2456.2,3968.9 2460.3,3976.3"/>
<line x1="2316" y1="4052.1" x2="2361.4" y2="4026.8" stroke-width="2.6"/>
<polygon class="ah" points="2361.4,4026.8 2343.4,4041.7 2339.3,4034.3"/>
<text class="d" transform="translate(2713.2 3694.2) rotate(90)" font-size="39.1" text-anchor="middle" textLength="113.2" lengthAdjust="spacingAndGlyphs">6xM14</text>
<text class="d" transform="translate(2713.2 3806) rotate(90)" font-size="39.1" text-anchor="middle" textLength="37.3" lengthAdjust="spacingAndGlyphs">18</text>
<line x1="2741.3" y1="3758.3" x2="2741.3" y2="3784.7" stroke-width="2.4"/>
<line x1="2741.3" y1="3771.5" x2="2713.2" y2="3771.5" stroke-width="2.4"/>
<path d="M2730.8 3762 L2713.2 3771.5 L2730.8 3781" stroke-width="2.4"/>
<line x1="2816" y1="4348.5" x2="2356" y2="4188.9" stroke-width="2.6"/>
<polygon class="ah" points="2356,4188.9 2379.1,4192.5 2376.4,4200.4"/>
<line x1="2816" y1="4348.5" x2="2816" y2="4401.5" stroke-width="2.6"/>
<text class="sc" transform="translate(2802 4532.5) rotate(90)" font-size="47" text-anchor="middle" textLength="232" lengthAdjust="spacing">加工用销孔</text>
<line x1="2147.5" y1="4595" x2="2690" y2="4595" stroke-width="2.6"/>
<line x1="2147.5" y1="4606.5" x2="2690" y2="4606.5" stroke-width="2.6"/>
<line x1="2681.5" y1="4545" x2="2681.5" y2="4702.5" stroke-width="2.6"/>
<polygon class="ah" points="2681.5,4595 2677.3,4572 2685.7,4572"/>
<polygon class="ah" points="2681.5,4606.5 2685.7,4629.5 2677.3,4629.5"/>
<text class="d" transform="translate(2692.5 4681) rotate(90)" font-size="37.7" text-anchor="middle" textLength="18.1" lengthAdjust="spacingAndGlyphs">2</text>
<line x1="1550" y1="1785" x2="1550" y2="2456" stroke-width="2.6"/>
<line x1="2743.6" y1="1785" x2="2743.6" y2="2587" stroke-width="2.6"/>
<line x1="1550" y1="1806.5" x2="2743.6" y2="1806.5" stroke-width="2.6"/>
<polygon class="ah" points="1550,1806.5 1573,1802.3 1573,1810.7"/>
<polygon class="ah" points="2743.6,1806.5 2720.6,1810.7 2720.6,1802.3"/>
<text class="d" transform="translate(2132.5 1795)" font-size="38.4" text-anchor="middle" textLength="85" lengthAdjust="spacingAndGlyphs">ø190</text>
<line x1="1644.5" y1="1866" x2="1644.5" y2="2374" stroke-width="2.6"/>
<line x1="2649.8" y1="1866" x2="2649.8" y2="2374" stroke-width="2.6"/>
<line x1="1644.5" y1="1876" x2="2649.8" y2="1876" stroke-width="2.6"/>
<polygon class="ah" points="1644.5,1876 1667.5,1871.8 1667.5,1880.2"/>
<polygon class="ah" points="2649.8,1876 2626.8,1880.2 2626.8,1871.8"/>
<text class="d" transform="translate(2017.5 1851.5)" font-size="38.4" text-anchor="start" textLength="131.5" lengthAdjust="spacingAndGlyphs">ø160h7</text>
<text class="pp" transform="translate(2151.5 1854)" font-size="45" text-anchor="start">(</text>
<text class="dt" transform="translate(2171 1829)" font-size="25.8" text-anchor="start" textLength="12.4" lengthAdjust="spacingAndGlyphs">0</text>
<text class="dt" transform="translate(2171 1852.5)" font-size="25.8" text-anchor="start" textLength="69.9" lengthAdjust="spacingAndGlyphs">−0.04</text>
<text class="pp" transform="translate(2250.5 1854)" font-size="45" text-anchor="start">)</text>
<line x1="1647.8" y1="1940" x2="1647.8" y2="2374" stroke-width="2.6"/>
<line x1="2646.5" y1="1940" x2="2646.5" y2="2374" stroke-width="2.6"/>
<line x1="1647.8" y1="1949" x2="2646.5" y2="1949" stroke-width="2.6"/>
<polygon class="ah" points="1647.8,1949 1670.8,1944.8 1670.8,1953.2"/>
<polygon class="ah" points="2646.5,1949 2623.5,1953.2 2623.5,1944.8"/>
<text class="d" transform="translate(2059 1935)" font-size="38.4" text-anchor="start" textLength="86" lengthAdjust="spacingAndGlyphs">ø160</text>
<text class="dt" transform="translate(2148 1912.5)" font-size="25.8" text-anchor="start" textLength="69.9" lengthAdjust="spacingAndGlyphs">−0.05</text>
<text class="dt" transform="translate(2148 1936)" font-size="25.8" text-anchor="start" textLength="69.4" lengthAdjust="spacingAndGlyphs">−0.10</text>
<line x1="1721.5" y1="2045" x2="1721.5" y2="2286.5" stroke-width="2.6"/>
<line x1="2570" y1="2045" x2="2570" y2="2287.5" stroke-width="2.6"/>
<line x1="1721.5" y1="2054" x2="2570" y2="2054" stroke-width="2.6"/>
<polygon class="ah" points="1721.5,2054 1744.5,2049.8 1744.5,2058.2"/>
<polygon class="ah" points="2570,2054 2547,2058.2 2547,2049.8"/>
<text class="d" transform="translate(2039 2032.5)" font-size="38.4" text-anchor="start" textLength="131.5" lengthAdjust="spacingAndGlyphs">ø135h7</text>
<text class="pp" transform="translate(2173 2035)" font-size="45" text-anchor="start">(</text>
<text class="dt" transform="translate(2192.5 2010)" font-size="25.8" text-anchor="start" textLength="12.4" lengthAdjust="spacingAndGlyphs">0</text>
<text class="dt" transform="translate(2192.5 2033.5)" font-size="25.8" text-anchor="start" textLength="69.9" lengthAdjust="spacingAndGlyphs">−0.04</text>
<text class="pp" transform="translate(2272 2035)" font-size="45" text-anchor="start">)</text>
<line x1="1989" y1="2085" x2="1989" y2="2241" stroke-width="2.6"/>
<line x1="2305.5" y1="2153" x2="2305.5" y2="2241" stroke-width="2.6"/>
<line x1="1989" y1="2162.5" x2="2305.5" y2="2162.5" stroke-width="2.6"/>
<polygon class="ah" points="1989,2162.5 2012,2158.3 2012,2166.7"/>
<polygon class="ah" points="2305.5,2162.5 2282.5,2166.7 2282.5,2158.3"/>
<text class="d" transform="translate(2034.5 2142.5)" font-size="38.4" text-anchor="start" textLength="114" lengthAdjust="spacingAndGlyphs">ø50H7</text>
<text class="pp" transform="translate(2151 2145)" font-size="45" text-anchor="start">(</text>
<text class="dt" transform="translate(2170.5 2120)" font-size="25.8" text-anchor="start" textLength="69.9" lengthAdjust="spacingAndGlyphs">0.025</text>
<text class="dt" transform="translate(2170.5 2143.5)" font-size="25.8" text-anchor="start" textLength="12.4" lengthAdjust="spacingAndGlyphs">0</text>
<text class="pp" transform="translate(2244.5 2145)" font-size="45" text-anchor="start">)</text>
<line x1="1986" y1="2235.8" x2="1912" y2="2107.6" stroke-width="2.6"/>
<path d="M1879.8 2142.6 A147 147 0 0 1 2039.3 2102.9" stroke-width="2.6"/>
<polygon class="ah" points="1915.5,2113.7 1897.7,2128.8 1893.5,2121.6"/>
<polygon class="ah" points="1989,2094 2012,2089.8 2012,2098.2"/>
<line x1="2567" y1="2235.8" x2="2493" y2="2107.6" stroke-width="2.6"/>
<path d="M2460.8 2142.6 A147 147 0 0 1 2620.3 2102.9" stroke-width="2.6"/>
<polygon class="ah" points="2496.5,2113.7 2478.7,2128.8 2474.5,2121.6"/>
<polygon class="ah" points="2570,2094 2593,2089.8 2593,2098.2"/>
<text class="d" transform="translate(1951 2112.5) rotate(165)" font-size="37.7" text-anchor="middle" textLength="58" lengthAdjust="spacingAndGlyphs">30°</text>
<text class="d" transform="translate(2538 2114) rotate(165)" font-size="37.7" text-anchor="middle" textLength="58" lengthAdjust="spacingAndGlyphs">30°</text>
<path d="M1726 2241 L1721.5 2245.5 L1721.5 2286.5" stroke-width="2.6"/>
<line x1="1724" y1="2241" x2="3099" y2="2241" stroke-width="2.6"/>
<path d="M1647.8 2374 L1647.8 2290 L1651 2286.5 L1958.5 2286.5" stroke-width="2.6"/>
<line x1="1645" y1="2374.5" x2="1966" y2="2374.5" stroke-width="2.6"/>
<line x1="1645" y1="2374.5" x2="1645" y2="2456" stroke-width="2.6"/>
<path d="M1987 2456 L1550 2456 L1550 2588.5 L1964 2588.5" stroke-width="2.6"/>
<path d="M1645 2588.5 L1645 2613.8 L1966 2613.8" stroke-width="2.6"/>
<path d="M1972 2645 L1645 2645 L1645 2666 L1648.5 2670.2 L1976 2670.2" stroke-width="2.6"/>
<path d="M1760 2670.2 L1760 2719 L2053 2719" stroke-width="2.6"/>
<line x1="1644.5" y1="2670" x2="1644.5" y2="3292" stroke-width="2.6"/>
<line x1="1663.5" y1="2614" x2="1663.5" y2="3181" stroke-width="2.6"/>
<line x1="1760" y1="2725" x2="1760" y2="3092" stroke-width="2.6"/>
<line x1="1812.5" y1="2261" x2="2078" y2="2261" stroke-width="2.6"/>
<line x1="1812.5" y1="2890" x2="2053" y2="2890" stroke-width="2.6"/>
<line x1="1820" y1="2148.5" x2="1820" y2="2890" stroke-width="2.6"/>
<polygon class="ah" points="1820,2241 1815.8,2218 1824.2,2218"/>
<polygon class="ah" points="1820,2261 1824.2,2284 1815.8,2284"/>
<polygon class="ah" points="1820,2890 1815.8,2867 1824.2,2867"/>
<text class="d" transform="translate(1832.5 2170) rotate(90)" font-size="37.7" text-anchor="middle" textLength="18.1" lengthAdjust="spacingAndGlyphs">3</text>
<text class="d" transform="translate(1832.5 2536) rotate(90)" font-size="37.7" text-anchor="middle" textLength="63.5" lengthAdjust="spacingAndGlyphs">100</text>
<line x1="2336" y1="2287.5" x2="2643" y2="2287.5" stroke-width="2.6"/>
<path d="M2643 2287.5 Q2646.5 2287.5 2646.5 2291 L2646.5 2374" stroke-width="2.6"/>
<line x1="2652" y1="2287.5" x2="2842.5" y2="2287.5" stroke-width="2.6"/>
<line x1="2328" y1="2374.7" x2="2648" y2="2374.7" stroke-width="2.6"/>
<line x1="2655" y1="2374.7" x2="2844.7" y2="2374.7" stroke-width="2.6"/>
<path d="M2649.5 2374.7 L2649.5 2431 Q2649.5 2437.5 2656 2437.5" stroke-width="2.6"/>
<path d="M2306.7 2437.5 L2741.5 2437.5 L2743.6 2440" stroke-width="2.6"/>
<line x1="2746.6" y1="2437.5" x2="2927" y2="2437.5" stroke-width="2.6"/>
<path d="M2330.4 2588.3 L2741.5 2588.3 L2743.6 2586" stroke-width="2.6"/>
<line x1="2746.6" y1="2588.3" x2="2926" y2="2588.3" stroke-width="2.6"/>
<path d="M2656 2588.3 Q2649.5 2588.3 2649.5 2595 L2649.5 2614.3" stroke-width="2.6"/>
<line x1="2327.6" y1="2614.3" x2="2650.8" y2="2614.3" stroke-width="2.6"/>
<line x1="2629.8" y1="2614.3" x2="2629.8" y2="2644.6" stroke-width="2.6"/>
<path d="M2319.6 2644.6 L2649.5 2644.6 L2649.5 2664.5 L2646.5 2669.5" stroke-width="2.6"/>
<line x1="2314.4" y1="2670.4" x2="2533.7" y2="2670.4" stroke-width="2.6"/>
<line x1="2538.6" y1="2670.6" x2="2891" y2="2670.6" stroke-width="4.2"/>
<line x1="2891" y1="2670.6" x2="3023" y2="2670.6" stroke-width="2.6"/>
<line x1="2533.7" y1="2670.4" x2="2533.7" y2="2716" stroke-width="2.6"/>
<line x1="2533.7" y1="2722" x2="2533.7" y2="3092" stroke-width="2.6"/>
<line x1="2238.9" y1="2718.5" x2="2532" y2="2718.5" stroke-width="2.6"/>
<line x1="2538.6" y1="2718.5" x2="3099" y2="2718.5" stroke-width="2.6"/>
<line x1="2630.5" y1="2676" x2="2630.5" y2="3181" stroke-width="2.6"/>
<line x1="2649.8" y1="2670" x2="2649.8" y2="3292" stroke-width="2.6"/>
<line x1="2538.6" y1="2669.2" x2="2626.6" y2="2620" stroke-width="1.1"/>
<path d="M2601 2635.5 A71.5 71.5 0 0 1 2538.6 2741.9" stroke-width="3.2"/>
<polygon class="ah" points="2601,2635.5 2612.1,2656.2 2603.5,2658.8"/>
<polygon class="ah" points="2538.6,2741.9 2560.5,2733.5 2562,2742.3"/>
<text class="d" transform="translate(2580 2745) rotate(146)" font-size="37.7" text-anchor="middle" textLength="80" lengthAdjust="spacingAndGlyphs">120°</text>
<circle cx="2665.5" cy="2626" r="68.5" stroke-width="1.1"/>
<line x1="2698.5" y1="2684.8" x2="2727" y2="2749" stroke-width="2.6"/>
<polygon class="ah" points="2727,2749 2743,2774.7 2735.3,2778.1"/>
<line x1="2727" y1="2749" x2="2746.6" y2="2793.3" stroke-width="2.6"/>
<line x1="2746.6" y1="2793.3" x2="2746.6" y2="2819.2" stroke-width="2.6"/>
<text class="sc" transform="translate(2763 2813) rotate(90)" font-size="40" text-anchor="middle">I</text>
<path d="M1989 2241 L1989 2266.2 L2001.8 2266.2 L2006.4 2272.4 L2076.3 2272.4" stroke-width="2.6"/>
<line x1="2006.4" y1="2272.4" x2="2006.4" y2="2323.8" stroke-width="2.6"/>
<line x1="2006.4" y1="2314.6" x2="2076.3" y2="2314.6" stroke-width="2.6"/>
<path d="M2005.5 2323.8 L2057.2 2323.8 L2057.2 2417.2 L1983.3 2417.2" stroke-width="2.6"/>
<path d="M1987.3 2454.2 L2048.9 2454.2 L2048.9 2505.6 L1973.1 2505.6" stroke-width="2.6"/>
<path d="M1969.5 2519.5 L2060.9 2519.5" stroke-width="2.6"/>
<line x1="2061.5" y1="2519.5" x2="2061.5" y2="2571.8" stroke-width="3.6"/>
<line x1="1963.3" y1="2571.8" x2="2060.9" y2="2571.8" stroke-width="2.6"/>
<path d="M1964.2 2582 L2048.9 2582 L2054.2 2588.8 L2054.2 2882.4 L2060.5 2890" stroke-width="2.6"/>
<path d="M2147.5 2261 L2084 2261 L2076.3 2268.4 L2076.3 2443.4 L2064.3 2455.7 L2064.3 2593.7" stroke-width="2.6"/>
<path d="M2121.9 2261 L2125 2267.7 L2125 2304.7 L2147.5 2317.7" stroke-width="2.6"/>
<line x1="2090.2" y1="2264" x2="2090.2" y2="2415" stroke-width="1.1" stroke-dasharray="38 6 6 6"/>
<line x1="2097.3" y1="2264" x2="2097.3" y2="2362" stroke-width="1.1" stroke-dasharray="38 6 6 6"/>
<path d="M2097.3 2362 C2097 2365 2097.1 2373.7 2095.5 2380 C2093.9 2386.3 2090.5 2394 2087.5 2400 C2084.5 2406 2079.2 2413.3 2077.5 2416" stroke-width="1.1"/>
<path d="M1977.1 2243.1 C1975.3 2246.7 1969.4 2257.5 1966.4 2264.7 C1963.3 2271.9 1960.9 2279.1 1958.7 2286.3 C1956.4 2293.4 1954.1 2300.6 1953.1 2307.8 C1952.1 2315 1951.8 2322.2 1952.5 2329.4 C1953.2 2336.6 1954.8 2343.5 1957.1 2351 C1959.4 2358.4 1963.3 2366.6 1966.4 2374.1 C1969.4 2381.5 1972.8 2388.7 1975.6 2395.6 C1978.4 2402.6 1981.2 2409.2 1983.3 2415.7 C1985.4 2422.1 1987 2429 1987.9 2434.1 C1988.8 2439.3 1989.3 2440.8 1988.5 2446.5 C1987.8 2452.1 1985.7 2458.3 1983.3 2468 C1980.9 2477.8 1976.6 2494.2 1974.1 2505 C1971.5 2515.8 1969.7 2521.4 1967.9 2532.7 C1966.1 2544 1963.9 2562.5 1963.3 2572.8 C1962.6 2583 1963.4 2587.4 1963.9 2594.3 C1964.4 2601.3 1964.9 2605.9 1966.4 2614.4 C1967.8 2622.8 1970.7 2635.7 1972.5 2645.2 C1974.3 2654.7 1975.8 2663.4 1977.1 2671.3 C1978.5 2679.3 1978.6 2685 1980.8 2692.9 C1983 2700.9 1988.8 2714.7 1990.4 2719.1" stroke-width="1.1"/>
<path d="M2306 2241 L2306 2266.2 L2293.2 2266.2 L2288.6 2272.4 L2218.7 2272.4" stroke-width="2.6"/>
<line x1="2288.6" y1="2272.4" x2="2288.6" y2="2323.8" stroke-width="2.6"/>
<line x1="2288.6" y1="2314.6" x2="2218.7" y2="2314.6" stroke-width="2.6"/>
<path d="M2289.5 2323.8 L2237.8 2323.8 L2237.8 2417.2 L2311.7 2417.2" stroke-width="2.6"/>
<path d="M2307.7 2454.2 L2246.1 2454.2 L2246.1 2505.6 L2321.9 2505.6" stroke-width="2.6"/>
<path d="M2325.5 2519.5 L2234.1 2519.5" stroke-width="2.6"/>
<line x1="2233.5" y1="2519.5" x2="2233.5" y2="2571.8" stroke-width="3.6"/>
<line x1="2331.7" y1="2571.8" x2="2234.1" y2="2571.8" stroke-width="2.6"/>
<path d="M2330.8 2582 L2246.1 2582 L2240.8 2588.8 L2240.8 2882.4 L2234.5 2890" stroke-width="2.6"/>
<path d="M2147.5 2261 L2211 2261 L2218.7 2268.4 L2218.7 2443.4 L2230.7 2455.7 L2230.7 2593.7" stroke-width="2.6"/>
<path d="M2173.1 2261 L2170 2267.7 L2170 2304.7 L2147.5 2317.7" stroke-width="2.6"/>
<line x1="2204.8" y1="2264" x2="2204.8" y2="2415" stroke-width="1.1" stroke-dasharray="38 6 6 6"/>
<line x1="2197.7" y1="2264" x2="2197.7" y2="2362" stroke-width="1.1" stroke-dasharray="38 6 6 6"/>
<path d="M2197.7 2362 C2198 2365 2197.9 2373.7 2199.5 2380 C2201.1 2386.3 2204.5 2394 2207.5 2400 C2210.5 2406 2215.8 2413.3 2217.5 2416" stroke-width="1.1"/>
<path d="M2317.9 2243.1 C2319.7 2246.7 2325.6 2257.5 2328.6 2264.7 C2331.7 2271.9 2334.1 2279.1 2336.3 2286.3 C2338.6 2293.4 2340.9 2300.6 2341.9 2307.8 C2342.9 2315 2343.2 2322.2 2342.5 2329.4 C2341.8 2336.6 2340.2 2343.5 2337.9 2351 C2335.6 2358.4 2331.7 2366.6 2328.6 2374.1 C2325.6 2381.5 2322.2 2388.7 2319.4 2395.6 C2316.6 2402.6 2313.8 2409.2 2311.7 2415.7 C2309.6 2422.1 2308 2429 2307.1 2434.1 C2306.2 2439.3 2305.7 2440.8 2306.5 2446.5 C2307.2 2452.1 2309.3 2458.3 2311.7 2468 C2314.1 2477.8 2318.4 2494.2 2320.9 2505 C2323.5 2515.8 2325.3 2521.4 2327.1 2532.7 C2328.9 2544 2331.1 2562.5 2331.7 2572.8 C2332.4 2583 2331.6 2587.4 2331.1 2594.3 C2330.6 2601.3 2330.1 2605.9 2328.6 2614.4 C2327.2 2622.8 2324.3 2635.7 2322.5 2645.2 C2320.7 2654.7 2319.2 2663.4 2317.9 2671.3 C2316.5 2679.3 2316.4 2685 2314.2 2692.9 C2312 2700.9 2306.2 2714.7 2304.6 2719.1" stroke-width="1.1"/>
<line x1="2076.3" y1="2443.4" x2="2218.7" y2="2443.4" stroke-width="2.6"/>
<line x1="2064.3" y1="2455.7" x2="2230.7" y2="2455.7" stroke-width="2.6"/>
<line x1="2054.2" y1="2593.7" x2="2240.8" y2="2593.7" stroke-width="2.6"/>
<line x1="2060.5" y1="2890" x2="2234.5" y2="2890" stroke-width="2.6"/>
<line x1="2125" y1="2267.7" x2="2170" y2="2267.7" stroke-width="2.6"/>
<line x1="2125" y1="2304.7" x2="2170" y2="2304.7" stroke-width="2.6"/>
<line x1="2078.5" y1="2331" x2="2216.5" y2="2331" stroke-width="1.1" stroke="#555"/>
<line x1="2147.5" y1="2244" x2="2147.5" y2="2925" stroke-width="1.1" stroke-dasharray="150 6 4 6"/>
<path d="M2137 2863.9 L2137 2825.4 L2147.5 2820 L2158 2825.4 L2158 2863.9 L2137 2863.9" stroke-width="1.1"/>
<path d="M2116.5 2888 L2125.5 2884.5 L2147.5 2848 L2169.5 2884.5 L2178.5 2888" stroke-width="1.1"/>
<line x1="2125.5" y1="2884.5" x2="2169.5" y2="2884.5" stroke-width="1.1"/>
<line x1="2413.5" y1="2112.5" x2="2413.5" y2="2314" stroke-width="2.6"/>
<polygon class="ah" points="2413.5,2241 2409.3,2218 2417.7,2218"/>
<polygon class="ah" points="2413.5,2266.2 2417.7,2289.2 2409.3,2289.2"/>
<line x1="2309" y1="2266.2" x2="2422.5" y2="2266.2" stroke-width="2.6"/>
<text class="d" transform="translate(2425 2152.5) rotate(90)" font-size="37.7" text-anchor="middle" textLength="57" lengthAdjust="spacingAndGlyphs">3.8</text>
<line x1="2372.5" y1="2191" x2="2372.5" y2="2335" stroke-width="2.6"/>
<polygon class="ah" points="2372.5,2241 2368.3,2218 2376.7,2218"/>
<polygon class="ah" points="2372.5,2249 2376.7,2272 2368.3,2272"/>
<line x1="2309" y1="2249" x2="2381" y2="2249" stroke-width="2.6"/>
<text class="d" transform="translate(2385 2320) rotate(90)" font-size="37.7" text-anchor="middle" textLength="17.3" lengthAdjust="spacingAndGlyphs">1</text>
<line x1="2576.3" y1="2249" x2="2785" y2="2249" stroke-width="2.6"/>
<line x1="2777" y1="2157.4" x2="2777" y2="2300" stroke-width="2.6"/>
<polygon class="ah" points="2777,2241 2772.8,2218 2781.2,2218"/>
<polygon class="ah" points="2777,2249 2781.2,2272 2772.8,2272"/>
<text class="d" transform="translate(2788 2174) rotate(90)" font-size="37.7" text-anchor="middle" textLength="17.3" lengthAdjust="spacingAndGlyphs">1</text>
<line x1="2833.6" y1="2190.7" x2="2833.6" y2="2287.5" stroke-width="2.6"/>
<polygon class="ah" points="2833.6,2241 2829.4,2218 2837.8,2218"/>
<polygon class="ah" points="2833.6,2287.5 2837.8,2310.5 2829.4,2310.5"/>
<line x1="2836" y1="2287.5" x2="2836" y2="2487.7" stroke-width="2.6"/>
<polygon class="ah" points="2836,2374.7 2831.8,2351.7 2840.2,2351.7"/>
<polygon class="ah" points="2836,2437.5 2840.2,2460.5 2831.8,2460.5"/>
<text class="d" transform="translate(2845.4 2264.7) rotate(90)" font-size="37.7" text-anchor="middle" textLength="18.1" lengthAdjust="spacingAndGlyphs">7</text>
<text class="d" transform="translate(2847.3 2405.4) rotate(90)" font-size="37.7" text-anchor="middle" textLength="42" lengthAdjust="spacingAndGlyphs">10</text>
<line x1="2918.7" y1="2241" x2="2918.7" y2="2588.3" stroke-width="2.6"/>
<polygon class="ah" points="2918.7,2241 2922.9,2264 2914.5,2264"/>
<polygon class="ah" points="2918.7,2437.5 2914.5,2414.5 2922.9,2414.5"/>
<polygon class="ah" points="2918.7,2437.5 2922.9,2460.5 2914.5,2460.5"/>
<polygon class="ah" points="2918.7,2588.3 2914.5,2565.3 2922.9,2565.3"/>
<text class="d" transform="translate(2929.4 2351.7) rotate(90)" font-size="37.7" text-anchor="middle" textLength="42" lengthAdjust="spacingAndGlyphs">31</text>
<text class="d" transform="translate(2929.4 2512.7) rotate(90)" font-size="37.7" text-anchor="middle" textLength="44" lengthAdjust="spacingAndGlyphs">24</text>
<line x1="3014.6" y1="2241" x2="3014.6" y2="2670.6" stroke-width="2.6"/>
<polygon class="ah" points="3014.6,2241 3018.8,2264 3010.4,2264"/>
<polygon class="ah" points="3014.6,2670.6 3010.4,2647.6 3018.8,2647.6"/>
<text class="d" transform="translate(3025 2456.5) rotate(90)" font-size="37.7" text-anchor="middle" textLength="44" lengthAdjust="spacingAndGlyphs">68</text>
<line x1="3090" y1="2241" x2="3090" y2="2718.5" stroke-width="2.6"/>
<polygon class="ah" points="3090,2241 3094.2,2264 3085.8,2264"/>
<polygon class="ah" points="3090,2718.5 3085.8,2695.5 3094.2,2695.5"/>
<text class="d" transform="translate(3100.8 2472) rotate(90)" font-size="37.7" text-anchor="middle" textLength="44" lengthAdjust="spacingAndGlyphs">76</text>
<line x1="2881.7" y1="2622" x2="2881.7" y2="2867.3" stroke-width="2.6"/>
<polygon class="ah" points="2881.7,2670.6 2877.5,2647.6 2885.9,2647.6"/>
<polygon class="ah" points="2881.7,2718.5 2885.9,2741.5 2877.5,2741.5"/>
<text class="d" transform="translate(2892.8 2829.2) rotate(90)" font-size="37.7" text-anchor="middle" textLength="60" lengthAdjust="spacingAndGlyphs">7.5</text>
<line x1="2054" y1="2893" x2="2054" y2="2989" stroke-width="2.6"/>
<line x1="2240.8" y1="2893" x2="2240.8" y2="2989" stroke-width="2.6"/>
<line x1="2054" y1="2980" x2="2240.8" y2="2980" stroke-width="2.6"/>
<polygon class="ah" points="2054,2980 2077,2975.8 2077,2984.2"/>
<polygon class="ah" points="2240.8,2980 2217.8,2984.2 2217.8,2975.8"/>
<text class="d" transform="translate(2147.5 2969)" font-size="37.7" text-anchor="middle" textLength="103.5" lengthAdjust="spacingAndGlyphs">ø29.5</text>
<line x1="1760" y1="3084" x2="2533.7" y2="3084" stroke-width="2.6"/>
<polygon class="ah" points="1760,3084 1783,3079.8 1783,3088.2"/>
<polygon class="ah" points="2533.7,3084 2510.7,3088.2 2510.7,3079.8"/>
<text class="d" transform="translate(2142 3071.5)" font-size="37.7" text-anchor="middle" textLength="87.5" lengthAdjust="spacingAndGlyphs">ø123</text>
<line x1="1663.5" y1="3173.5" x2="2630.5" y2="3173.5" stroke-width="2.6"/>
<polygon class="ah" points="1663.5,3173.5 1686.5,3169.3 1686.5,3177.7"/>
<polygon class="ah" points="2630.5,3173.5 2607.5,3177.7 2607.5,3169.3"/>
<text class="d" transform="translate(2040 3160)" font-size="37.7" text-anchor="start" textLength="123" lengthAdjust="spacingAndGlyphs">ø153.8</text>
<text class="dt" transform="translate(2165 3137.5)" font-size="25.8" text-anchor="start" textLength="12.4" lengthAdjust="spacingAndGlyphs">0</text>
<text class="dt" transform="translate(2165 3161)" font-size="25.8" text-anchor="start" textLength="69.9" lengthAdjust="spacingAndGlyphs">−0.05</text>
<line x1="1644.5" y1="3284" x2="2649.8" y2="3284" stroke-width="2.6"/>
<polygon class="ah" points="1644.5,3284 1667.5,3279.8 1667.5,3288.2"/>
<polygon class="ah" points="2649.8,3284 2626.8,3288.2 2626.8,3279.8"/>
<text class="d" transform="translate(2020 3264)" font-size="38.4" text-anchor="start" textLength="131.5" lengthAdjust="spacingAndGlyphs">ø160h7</text>
<text class="pp" transform="translate(2154 3266.5)" font-size="45" text-anchor="start">(</text>
<text class="dt" transform="translate(2173.5 3241.5)" font-size="25.8" text-anchor="start" textLength="12.4" lengthAdjust="spacingAndGlyphs">0</text>
<text class="dt" transform="translate(2173.5 3265)" font-size="25.8" text-anchor="start" textLength="69.9" lengthAdjust="spacingAndGlyphs">−0.04</text>
<text class="pp" transform="translate(2253 3266.5)" font-size="45" text-anchor="start">)</text>
<line x1="1476" y1="1986" x2="1476" y2="2156" stroke-width="2.6"/>
<line x1="1476" y1="2156" x2="1642.5" y2="2454" stroke-width="2.6"/>
<polygon class="ah" points="1642.5,2454 1627.6,2436 1634.9,2431.9"/>
<text class="d" transform="translate(1488.5 2066) rotate(90)" font-size="38.4" text-anchor="middle" textLength="160" lengthAdjust="spacingAndGlyphs">R0.5MAX</text>
<line x1="1470" y1="2278.5" x2="1470" y2="2370" stroke-width="2.6"/>
<line x1="1470" y1="2370" x2="1549" y2="2454" stroke-width="2.6"/>
<polygon class="ah" points="1549,2454 1530.2,2440.1 1536.3,2434.4"/>
<text class="d" transform="translate(1481.5 2319) rotate(90)" font-size="38.4" text-anchor="middle" textLength="80" lengthAdjust="spacingAndGlyphs">C0.5</text>
<line x1="1443.5" y1="2721" x2="1549" y2="2590" stroke-width="2.6"/>
<polygon class="ah" points="1549,2590 1537.8,2610.5 1531.3,2605.3"/>
<line x1="1443.5" y1="2721" x2="1443.5" y2="2812.5" stroke-width="2.6"/>
<text class="d" transform="translate(1455 2772.5) rotate(90)" font-size="38.4" text-anchor="middle" textLength="80" lengthAdjust="spacingAndGlyphs">C0.5</text>
<line x1="1506.5" y1="2786" x2="1641.5" y2="2591" stroke-width="2.6"/>
<polygon class="ah" points="1641.5,2591 1631.9,2612.3 1625,2607.5"/>
<line x1="1506.5" y1="2786" x2="1506.5" y2="2957.5" stroke-width="2.6"/>
<text class="d" transform="translate(1518.5 2878) rotate(90)" font-size="38.4" text-anchor="middle" textLength="159" lengthAdjust="spacingAndGlyphs">R0.5MAX</text>
<circle cx="2210" cy="2781" r="3.2" style="fill:#333;stroke:none"/>
<path d="M2210 2781 L2751 2909 L2751 2980" stroke-width="1.1"/>
<text class="sc" transform="translate(2731.5 3114) rotate(90)" font-size="46" text-anchor="middle" textLength="228" lengthAdjust="spacing">输入齿轮轴</text>
<path d="M892.5 2134 L888.5 2138 L888.5 2316.5 L875.5 2330.5" stroke-width="2.6"/>
<path d="M1025.5 2134 L1029.5 2138 L1029.5 2316.5 L1042.5 2330.5" stroke-width="2.6"/>
<line x1="892.5" y1="2134" x2="1025.5" y2="2134" stroke-width="2.6"/>
<line x1="888.5" y1="2316.5" x2="1029.5" y2="2316.5" stroke-width="2.6"/>
<line x1="875.5" y1="2330.5" x2="1042.5" y2="2330.5" stroke-width="2.6"/>
<path d="M933 2134 L937 2142 L937 2178 L959 2192 L981 2178 L981 2142 L985 2134" stroke-width="2.6"/>
<line x1="937" y1="2142" x2="981" y2="2142" stroke-width="2.6"/>
<line x1="937" y1="2178" x2="981" y2="2178" stroke-width="2.6"/>
<line x1="888.5" y1="2203.5" x2="1029.5" y2="2203.5" stroke-width="1.1" stroke="#555"/>
<line x1="901.5" y1="2136" x2="901.5" y2="2300" stroke-width="1.1" stroke-dasharray="38 6 6 6"/>
<line x1="907.5" y1="2136" x2="907.5" y2="2244" stroke-width="1.1" stroke-dasharray="38 6 6 6"/>
<path d="M907.5 2244 Q907 2274 890 2300" stroke-width="1.1"/>
<line x1="1016.5" y1="2136" x2="1016.5" y2="2300" stroke-width="1.1" stroke-dasharray="38 6 6 6"/>
<line x1="1010.5" y1="2136" x2="1010.5" y2="2244" stroke-width="1.1" stroke-dasharray="38 6 6 6"/>
<path d="M1010.5 2244 Q1011 2274 1028 2300" stroke-width="1.1"/>
<line x1="875.5" y1="2330.5" x2="875.5" y2="2878" stroke-width="2.6"/>
<line x1="1042.5" y1="2330.5" x2="1042.5" y2="2878" stroke-width="2.6"/>
<path d="M865.5 2758.5 L865.5 2468.5 L1052.5 2468.5 L1052.5 2758.5 L1048 2763.5 L870 2763.5 L865.5 2758.5" stroke-width="2.6"/>
<line x1="865.5" y1="2765.5" x2="865.5" y2="2962" stroke-width="2.6"/>
<line x1="1052.5" y1="2765.5" x2="1052.5" y2="2962" stroke-width="2.6"/>
<line x1="959" y1="2119" x2="959" y2="2798" stroke-width="1.1" stroke-dasharray="150 6 4 6"/>
<path d="M948.5 2735.5 L948.5 2695.5 L959 2689.5 L969.5 2695.5 L969.5 2735.5 L948.5 2735.5" stroke-width="1.1"/>
<path d="M929 2762.5 L938 2759.5 L959 2720.5 L980 2759.5 L989 2762.5" stroke-width="1.1"/>
<line x1="938" y1="2759.5" x2="980" y2="2759.5" stroke-width="1.1"/>
<line x1="937" y1="2026" x2="937" y2="2142" stroke-width="2.6"/>
<line x1="981" y1="2026" x2="981" y2="2142" stroke-width="2.6"/>
<line x1="821" y1="2035" x2="937" y2="2035" stroke-width="2.6"/>
<polygon class="ah" points="937,2035 914,2039.2 914,2030.8"/>
<line x1="981" y1="2035" x2="1031.5" y2="2035" stroke-width="2.6"/>
<polygon class="ah" points="981,2035 1004,2030.8 1004,2039.2"/>
<text class="d" transform="translate(852.5 2021.5)" font-size="37.7" text-anchor="middle" textLength="40" lengthAdjust="spacingAndGlyphs">ø7</text>
<line x1="646.5" y1="2134" x2="889" y2="2134" stroke-width="2.6"/>
<line x1="646.5" y1="2763.5" x2="867.5" y2="2763.5" stroke-width="2.6"/>
<line x1="654" y1="2134" x2="654" y2="2763.5" stroke-width="2.6"/>
<polygon class="ah" points="654,2134 658.2,2157 649.8,2157"/>
<polygon class="ah" points="654,2763.5 649.8,2740.5 658.2,2740.5"/>
<line x1="723.5" y1="2468.5" x2="860" y2="2468.5" stroke-width="2.6"/>
<line x1="731" y1="2134" x2="731" y2="2468.5" stroke-width="2.6"/>
<polygon class="ah" points="731,2134 735.2,2157 726.8,2157"/>
<polygon class="ah" points="731,2468.5 726.8,2445.5 735.2,2445.5"/>
<line x1="795" y1="2316.5" x2="882.5" y2="2316.5" stroke-width="2.6"/>
<line x1="802.5" y1="2134" x2="802.5" y2="2316.5" stroke-width="2.6"/>
<polygon class="ah" points="802.5,2134 806.7,2157 798.3,2157"/>
<polygon class="ah" points="802.5,2316.5 798.3,2293.5 806.7,2293.5"/>
<text class="d" transform="translate(667.5 2435) rotate(90)" font-size="36.3" text-anchor="middle" textLength="62.5" lengthAdjust="spacingAndGlyphs">100</text>
<text class="d" transform="translate(744 2284) rotate(90)" font-size="36.3" text-anchor="middle" textLength="41" lengthAdjust="spacingAndGlyphs">53</text>
<text class="d" transform="translate(815 2222.5) rotate(90)" font-size="36.3" text-anchor="middle" textLength="42" lengthAdjust="spacingAndGlyphs">29</text>
<line x1="1030" y1="2134" x2="1166.5" y2="2134" stroke-width="2.6"/>
<line x1="986" y1="2179" x2="1104" y2="2179" stroke-width="2.6"/>
<line x1="1035" y1="2203.5" x2="1166.5" y2="2203.5" stroke-width="2.6"/>
<line x1="1096" y1="2084" x2="1096" y2="2229" stroke-width="2.6"/>
<polygon class="ah" points="1096,2134 1091.8,2111 1100.2,2111"/>
<polygon class="ah" points="1096,2179 1100.2,2202 1091.8,2202"/>
<line x1="1158" y1="2084" x2="1158" y2="2254" stroke-width="2.6"/>
<polygon class="ah" points="1158,2134 1153.8,2111 1162.2,2111"/>
<polygon class="ah" points="1158,2203.5 1162.2,2226.5 1153.8,2226.5"/>
<text class="d" transform="translate(1107.5 2157.5) rotate(90)" font-size="36.3" text-anchor="middle" textLength="17.4" lengthAdjust="spacingAndGlyphs">7</text>
<text class="d" transform="translate(1169 2170) rotate(90)" font-size="36.3" text-anchor="middle" textLength="36" lengthAdjust="spacingAndGlyphs">11</text>
<line x1="1045.5" y1="2333.5" x2="1119.5" y2="2407.5" stroke-width="2.6"/>
<path d="M1138.9 2363.7 A102 102 0 0 1 994.6 2420.6" stroke-width="2.6"/>
<polygon class="ah" points="1042.5,2432.5 1019.5,2436.7 1019.5,2428.3"/>
<polygon class="ah" points="1114.6,2402.6 1129.9,2384.9 1135.1,2391.4"/>
<text class="d" transform="translate(1086.5 2437) rotate(160)" font-size="37.7" text-anchor="middle" textLength="56" lengthAdjust="spacingAndGlyphs">45°</text>
<line x1="875.5" y1="2869" x2="1042.5" y2="2869" stroke-width="2.6"/>
<polygon class="ah" points="875.5,2869 898.5,2864.8 898.5,2873.2"/>
<polygon class="ah" points="1042.5,2869 1019.5,2873.2 1019.5,2864.8"/>
<text class="d" transform="translate(958 2856)" font-size="37.7" text-anchor="middle" textLength="104" lengthAdjust="spacingAndGlyphs">ø26.5</text>
<line x1="865.5" y1="2953.5" x2="1052.5" y2="2953.5" stroke-width="2.6"/>
<polygon class="ah" points="865.5,2953.5 888.5,2949.3 888.5,2957.7"/>
<polygon class="ah" points="1052.5,2953.5 1029.5,2957.7 1029.5,2949.3"/>
<text class="d" transform="translate(955 2940)" font-size="37.7" text-anchor="middle" textLength="104" lengthAdjust="spacingAndGlyphs">ø29.5</text>
<text class="sc" transform="translate(456.5 2412.5) rotate(90)" font-size="45" text-anchor="middle" textLength="386" lengthAdjust="spacing">A型标准输入齿轮轴</text>
<path d="M892.5 3476.5 L888.5 3480.5 L888.5 3659 L875.5 3673" stroke-width="2.6"/>
<path d="M1025.5 3476.5 L1029.5 3480.5 L1029.5 3659 L1042.5 3673" stroke-width="2.6"/>
<line x1="892.5" y1="3476.5" x2="1025.5" y2="3476.5" stroke-width="2.6"/>
<line x1="888.5" y1="3659" x2="1029.5" y2="3659" stroke-width="2.6"/>
<line x1="875.5" y1="3673" x2="1042.5" y2="3673" stroke-width="2.6"/>
<path d="M934.5 3476.5 L938.5 3484.5 L938.5 3520.5 L959 3534.5 L979.5 3520.5 L979.5 3484.5 L983.5 3476.5" stroke-width="2.6"/>
<line x1="938.5" y1="3484.5" x2="979.5" y2="3484.5" stroke-width="2.6"/>
<line x1="938.5" y1="3520.5" x2="979.5" y2="3520.5" stroke-width="2.6"/>
<line x1="888.5" y1="3546" x2="1029.5" y2="3546" stroke-width="1.1" stroke="#555"/>
<line x1="901.5" y1="3478.5" x2="901.5" y2="3642.5" stroke-width="1.1" stroke-dasharray="38 6 6 6"/>
<line x1="907.5" y1="3478.5" x2="907.5" y2="3586.5" stroke-width="1.1" stroke-dasharray="38 6 6 6"/>
<path d="M907.5 3586.5 Q907 3616.5 890 3642.5" stroke-width="1.1"/>
<line x1="1016.5" y1="3478.5" x2="1016.5" y2="3642.5" stroke-width="1.1" stroke-dasharray="38 6 6 6"/>
<line x1="1010.5" y1="3478.5" x2="1010.5" y2="3586.5" stroke-width="1.1" stroke-dasharray="38 6 6 6"/>
<path d="M1010.5 3586.5 Q1011 3616.5 1028 3642.5" stroke-width="1.1"/>
<line x1="875.5" y1="3352" x2="875.5" y2="3809" stroke-width="2.6"/>
<line x1="1042.5" y1="3352" x2="1042.5" y2="3809" stroke-width="2.6"/>
<path d="M865.5 3953.5 L865.5 3809 L1052.5 3809 L1052.5 3953.5" stroke-width="2.6"/>
<path d="M845 4194 L845 3953.5 L1073 3953.5 L1073 4194 L1068.5 4199 L849.5 4199 L845 4194" stroke-width="2.6"/>
<line x1="865.5" y1="3959.5" x2="865.5" y2="4464" stroke-width="2.6"/>
<line x1="1052.5" y1="3959.5" x2="1052.5" y2="4464" stroke-width="2.6"/>
<line x1="845" y1="4201" x2="845" y2="4583" stroke-width="2.6"/>
<line x1="1073" y1="4201" x2="1073" y2="4583" stroke-width="2.6"/>
<line x1="959" y1="3446" x2="959" y2="4236" stroke-width="1.1" stroke-dasharray="150 6 4 6"/>
<path d="M948.5 4171 L948.5 4131 L959 4125 L969.5 4131 L969.5 4171 L948.5 4171" stroke-width="1.1"/>
<path d="M929 4198 L938 4195 L959 4156 L980 4195 L989 4198" stroke-width="1.1"/>
<line x1="938" y1="4195" x2="980" y2="4195" stroke-width="1.1"/>
<line x1="875.5" y1="3360.5" x2="1042.5" y2="3360.5" stroke-width="2.6"/>
<polygon class="ah" points="875.5,3360.5 898.5,3356.3 898.5,3364.7"/>
<polygon class="ah" points="1042.5,3360.5 1019.5,3364.7 1019.5,3356.3"/>
<text class="d" transform="translate(949 3347.5)" font-size="37.7" text-anchor="middle" textLength="104" lengthAdjust="spacingAndGlyphs">ø26.5</text>
<line x1="938" y1="3415" x2="938" y2="3484.5" stroke-width="2.6"/>
<line x1="979.5" y1="3415" x2="979.5" y2="3484.5" stroke-width="2.6"/>
<line x1="774" y1="3423.5" x2="938" y2="3423.5" stroke-width="2.6"/>
<polygon class="ah" points="938,3423.5 915,3427.7 915,3419.3"/>
<line x1="979.5" y1="3423.5" x2="1029" y2="3423.5" stroke-width="2.6"/>
<polygon class="ah" points="979.5,3423.5 1002.5,3419.3 1002.5,3427.7"/>
<text class="d" transform="translate(823 3410)" font-size="37.7" text-anchor="middle" textLength="76" lengthAdjust="spacingAndGlyphs">ø6.6</text>
<line x1="575" y1="3476.5" x2="889" y2="3476.5" stroke-width="2.6"/>
<line x1="575" y1="4199" x2="845" y2="4199" stroke-width="2.6"/>
<line x1="582.5" y1="3476.5" x2="582.5" y2="4199" stroke-width="2.6"/>
<polygon class="ah" points="582.5,3476.5 586.7,3499.5 578.3,3499.5"/>
<polygon class="ah" points="582.5,4199 578.3,4176 586.7,4176"/>
<line x1="633" y1="3953.5" x2="839" y2="3953.5" stroke-width="2.6"/>
<line x1="641.5" y1="3476.5" x2="641.5" y2="3953.5" stroke-width="2.6"/>
<polygon class="ah" points="641.5,3476.5 645.7,3499.5 637.3,3499.5"/>
<polygon class="ah" points="641.5,3953.5 637.3,3930.5 645.7,3930.5"/>
<line x1="709" y1="3809" x2="860" y2="3809" stroke-width="2.6"/>
<line x1="717.5" y1="3476.5" x2="717.5" y2="3809" stroke-width="2.6"/>
<polygon class="ah" points="717.5,3476.5 721.7,3499.5 713.3,3499.5"/>
<polygon class="ah" points="717.5,3809 713.3,3786 721.7,3786"/>
<line x1="791" y1="3659" x2="882.5" y2="3659" stroke-width="2.6"/>
<line x1="799" y1="3476.5" x2="799" y2="3659" stroke-width="2.6"/>
<polygon class="ah" points="799,3476.5 803.2,3499.5 794.8,3499.5"/>
<polygon class="ah" points="799,3659 794.8,3636 803.2,3636"/>
<text class="d" transform="translate(595 3835) rotate(90)" font-size="36.3" text-anchor="middle" textLength="62" lengthAdjust="spacingAndGlyphs">115</text>
<text class="d" transform="translate(654 3710) rotate(90)" font-size="36.3" text-anchor="middle" textLength="42" lengthAdjust="spacingAndGlyphs">76</text>
<text class="d" transform="translate(730 3632.5) rotate(90)" font-size="36.3" text-anchor="middle" textLength="41" lengthAdjust="spacingAndGlyphs">53</text>
<text class="d" transform="translate(812.5 3569) rotate(90)" font-size="36.3" text-anchor="middle" textLength="42" lengthAdjust="spacingAndGlyphs">29</text>
<line x1="1030" y1="3476.5" x2="1135" y2="3476.5" stroke-width="2.6"/>
<line x1="985" y1="3520" x2="1083.5" y2="3520" stroke-width="2.6"/>
<line x1="1035" y1="3546" x2="1135" y2="3546" stroke-width="2.6"/>
<line x1="1075" y1="3425" x2="1075" y2="3570" stroke-width="2.6"/>
<polygon class="ah" points="1075,3476.5 1070.8,3453.5 1079.2,3453.5"/>
<polygon class="ah" points="1075,3520 1079.2,3543 1070.8,3543"/>
<line x1="1126.5" y1="3425" x2="1126.5" y2="3596" stroke-width="2.6"/>
<polygon class="ah" points="1126.5,3476.5 1122.3,3453.5 1130.7,3453.5"/>
<polygon class="ah" points="1126.5,3546 1130.7,3569 1122.3,3569"/>
<text class="d" transform="translate(1086 3497.5) rotate(90)" font-size="36.3" text-anchor="middle" textLength="17.4" lengthAdjust="spacingAndGlyphs">7</text>
<text class="d" transform="translate(1138.5 3512.5) rotate(90)" font-size="36.3" text-anchor="middle" textLength="36" lengthAdjust="spacingAndGlyphs">11</text>
<line x1="1045.5" y1="3676" x2="1125.5" y2="3756" stroke-width="2.6"/>
<path d="M1146.5 3708.8 A110 110 0 0 1 990.9 3770.1" stroke-width="2.6"/>
<polygon class="ah" points="1042.5,3783 1019.5,3787.2 1019.5,3778.8"/>
<polygon class="ah" points="1120.3,3750.8 1135.5,3733 1140.8,3739.6"/>
<text class="d" transform="translate(1091 3784.7) rotate(160)" font-size="37.7" text-anchor="middle" textLength="56" lengthAdjust="spacingAndGlyphs">45°</text>
<line x1="865.5" y1="4455.5" x2="1052.5" y2="4455.5" stroke-width="2.6"/>
<polygon class="ah" points="865.5,4455.5 888.5,4451.3 888.5,4459.7"/>
<polygon class="ah" points="1052.5,4455.5 1029.5,4459.7 1029.5,4451.3"/>
<text class="d" transform="translate(958 4443.5)" font-size="37.7" text-anchor="middle" textLength="104" lengthAdjust="spacingAndGlyphs">ø29.5</text>
<line x1="845" y1="4574.5" x2="1073" y2="4574.5" stroke-width="2.6"/>
<polygon class="ah" points="845,4574.5 868,4570.3 868,4578.7"/>
<polygon class="ah" points="1073,4574.5 1050,4578.7 1050,4570.3"/>
<text class="d" transform="translate(961.5 4562.5)" font-size="37.7" text-anchor="middle" textLength="66.5" lengthAdjust="spacingAndGlyphs">ø36</text>
<text class="sc" transform="translate(371.5 3775.5) rotate(90)" font-size="44" text-anchor="middle" textLength="384" lengthAdjust="spacing">B型标准输入齿轮轴</text>
<text class="sc" transform="translate(137 2623) rotate(90)" font-size="108" text-anchor="middle" textLength="1293" lengthAdjust="spacing">广东祥如机电设备有限公司</text>
<path d="M612.1 1091.4 A172.5 172.5 0 1 1 889.3 887.9" stroke-width="1.1"/>
<line x1="597.5" y1="887.5" x2="889" y2="887.5" stroke-width="2.6"/>
<path d="M720 888.5 Q705 888.5 705 903.5 L705 952.5" stroke-width="2.6"/>
<line x1="571.5" y1="952.5" x2="704" y2="952.5" stroke-width="2.6"/>
<line x1="708" y1="952.5" x2="937.5" y2="952.5" stroke-width="2.6"/>
<line x1="655.5" y1="952.5" x2="655.5" y2="1028.5" stroke-width="2.6"/>
<line x1="576" y1="1028.5" x2="704" y2="1028.5" stroke-width="2.6"/>
<line x1="708" y1="1028.5" x2="1007.5" y2="1028.5" stroke-width="2.6"/>
<line x1="705" y1="1028.5" x2="705" y2="1257.5" stroke-width="2.6"/>
<line x1="708" y1="1076" x2="856" y2="1076" stroke-width="2.6"/>
<line x1="612.5" y1="1091" x2="1007.5" y2="1091" stroke-width="2.6"/>
<line x1="705" y1="1077.5" x2="607.5" y2="1229" stroke-width="2.6"/>
<path d="M755 1241 A171 171 0 0 1 582 1196.3" stroke-width="2.6"/>
<polygon class="ah" points="705,1248.5 728,1244.3 728,1252.7"/>
<polygon class="ah" points="612.5,1221.3 590.1,1214.3 594.1,1206.9"/>
<text class="d" transform="translate(664 1216) rotate(14)" font-size="37.7" text-anchor="middle" textLength="58" lengthAdjust="spacingAndGlyphs">30°</text>
<line x1="929" y1="729" x2="929" y2="1078.5" stroke-width="2.6"/>
<polygon class="ah" points="929,952.5 924.8,929.5 933.2,929.5"/>
<polygon class="ah" points="929,1028.5 933.2,1051.5 924.8,1051.5"/>
<line x1="999" y1="977.5" x2="999" y2="1142.5" stroke-width="2.6"/>
<polygon class="ah" points="999,1028.5 994.8,1005.5 1003.2,1005.5"/>
<polygon class="ah" points="999,1091 1003.2,1114 994.8,1114"/>
<line x1="847.5" y1="1025" x2="847.5" y2="1172.5" stroke-width="2.6"/>
<polygon class="ah" points="847.5,1076 843.3,1053 851.7,1053"/>
<polygon class="ah" points="847.5,1091 851.7,1114 843.3,1114"/>
<text class="d" transform="translate(941 781.5) rotate(90)" font-size="40.5" text-anchor="middle" textLength="83" lengthAdjust="spacingAndGlyphs">4.78</text>
<text class="dt" transform="translate(963.5 825) rotate(90)" font-size="26" text-anchor="start" textLength="54.6" lengthAdjust="spacingAndGlyphs">0.25</text>
<text class="dt" transform="translate(942 825) rotate(90)" font-size="26" text-anchor="start" textLength="12.4" lengthAdjust="spacingAndGlyphs">0</text>
<text class="d" transform="translate(1010 1061) rotate(90)" font-size="37.7" text-anchor="middle" textLength="18.1" lengthAdjust="spacingAndGlyphs">4</text>
<text class="d" transform="translate(860 1158.5) rotate(90)" font-size="37.7" text-anchor="middle" textLength="17.3" lengthAdjust="spacingAndGlyphs">1</text>
<text class="sg" transform="translate(1176 987.5) rotate(90)" font-size="60" text-anchor="middle">I</text>
<line x1="1163.5" y1="935" x2="1163.5" y2="1042.5" stroke-width="1.3" stroke="#666"/>
<text class="sg" transform="translate(1114 982.5) rotate(90)" font-size="57" text-anchor="middle" textLength="71" lengthAdjust="spacingAndGlyphs" font-weight="bold">2:1</text>
<g class="fr">
<rect x="37.6" y="53.4" width="3432.9" height="4853.900000000001" />
<line x1="3220.7" y1="53.4" x2="3220.7" y2="4907.3" stroke-width="1.4"/>
<rect x="3296" y="4466.5" width="82" height="164.5"/>
<rect x="3276" y="4663.5" width="122" height="81.5"/>
<line x1="3337" y1="4663.5" x2="3337" y2="4745" stroke-width="1.4"/>
</g>
<text class="tt" transform="translate(3303.2 160.5) rotate(90)" font-size="133" text-anchor="start" textLength="459" lengthAdjust="spacingAndGlyphs">HRV40E</text>
<text class="tc" transform="translate(3376 703) rotate(90)" font-size="102.5" text-anchor="start" textLength="1349" lengthAdjust="spacing">输出轴螺栓紧固型外形尺寸图</text>
<text class="tt" transform="translate(3270 699) rotate(90)" font-size="92" text-anchor="start" textLength="1404" lengthAdjust="spacingAndGlyphs">Bolt clamping output shaft type</text>
<text class="tc" transform="translate(3370 3536) rotate(90)" font-size="102.5" text-anchor="start" textLength="441" lengthAdjust="spacing">型号代码:</text>
<text class="tt" transform="translate(3257 3538) rotate(90)" font-size="92" text-anchor="start" textLength="467" lengthAdjust="spacingAndGlyphs">Type code</text>
<text class="tt" transform="translate(3310.5 4061) rotate(90)" font-size="106" text-anchor="start" textLength="361" lengthAdjust="spacingAndGlyphs">HRV40E</text>
<text class="tc" transform="translate(3416.5 4491) rotate(90)" font-size="36" text-anchor="start" textLength="111" lengthAdjust="spacing">速比值</text>
<text class="ts" transform="translate(3386 4453) rotate(90)" font-size="35" text-anchor="start" textLength="177" lengthAdjust="spacingAndGlyphs">speed ratio</text>
<text class="tt" transform="translate(3351 4704.5) rotate(90)" font-size="57" text-anchor="middle">A</text>
<text class="tt" transform="translate(3291.5 4705.7) rotate(90)" font-size="57" text-anchor="middle">B</text>
<text class="tt" transform="translate(3307 4793.5) rotate(90)" font-size="91" text-anchor="middle" textLength="47" lengthAdjust="spacingAndGlyphs">B</text>
</g></svg>
</body></html>
